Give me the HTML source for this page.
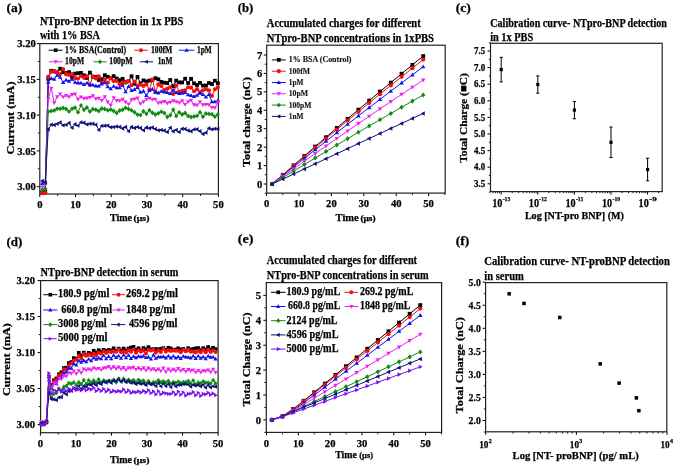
<!DOCTYPE html>
<html><head><meta charset="utf-8"><style>
html,body{margin:0;padding:0;background:#fff;width:675px;height:468px;overflow:hidden;}
svg{display:block;font-family:"Liberation Serif", serif;will-change:transform;}
</style></head><body>
<svg width="675" height="468" viewBox="0 0 675 468" font-family='"Liberation Serif", serif'>
<rect width="675" height="468" fill="#fff"/>
<text x="6.5" y="11.5" font-size="13.4" font-weight="bold" text-anchor="start" fill="#000" stroke="#000" stroke-width="0.25" textLength="15.8" lengthAdjust="spacingAndGlyphs" >(a)</text>
<text x="237.7" y="11.5" font-size="13.4" font-weight="bold" text-anchor="start" fill="#000" stroke="#000" stroke-width="0.25" textLength="15.6" lengthAdjust="spacingAndGlyphs" >(b)</text>
<text x="455.7" y="11.5" font-size="13.4" font-weight="bold" text-anchor="start" fill="#000" stroke="#000" stroke-width="0.25" textLength="15.1" lengthAdjust="spacingAndGlyphs" >(c)</text>
<text x="6.5" y="245.6" font-size="13.4" font-weight="bold" text-anchor="start" fill="#000" stroke="#000" stroke-width="0.25" textLength="15.8" lengthAdjust="spacingAndGlyphs" >(d)</text>
<text x="237.7" y="243" font-size="13.4" font-weight="bold" text-anchor="start" fill="#000" stroke="#000" stroke-width="0.25" textLength="15.8" lengthAdjust="spacingAndGlyphs" >(e)</text>
<text x="455.7" y="244.9" font-size="13.4" font-weight="bold" text-anchor="start" fill="#000" stroke="#000" stroke-width="0.25" textLength="13.5" lengthAdjust="spacingAndGlyphs" >(f)</text>
<line x1="39.8" y1="194" x2="39.8" y2="197" stroke="#000" stroke-width="1" />
<text x="39.8" y="207.8" font-size="10.6" font-weight="bold" text-anchor="middle" fill="#000" stroke="#000" stroke-width="0.25" >0</text>
<line x1="75.52" y1="194" x2="75.52" y2="197" stroke="#000" stroke-width="1" />
<text x="75.52" y="207.8" font-size="10.6" font-weight="bold" text-anchor="middle" fill="#000" stroke="#000" stroke-width="0.25" >10</text>
<line x1="111.24" y1="194" x2="111.24" y2="197" stroke="#000" stroke-width="1" />
<text x="111.24" y="207.8" font-size="10.6" font-weight="bold" text-anchor="middle" fill="#000" stroke="#000" stroke-width="0.25" >20</text>
<line x1="146.96" y1="194" x2="146.96" y2="197" stroke="#000" stroke-width="1" />
<text x="146.96" y="207.8" font-size="10.6" font-weight="bold" text-anchor="middle" fill="#000" stroke="#000" stroke-width="0.25" >30</text>
<line x1="182.68" y1="194" x2="182.68" y2="197" stroke="#000" stroke-width="1" />
<text x="182.68" y="207.8" font-size="10.6" font-weight="bold" text-anchor="middle" fill="#000" stroke="#000" stroke-width="0.25" >40</text>
<line x1="218.4" y1="194" x2="218.4" y2="197" stroke="#000" stroke-width="1" />
<text x="218.4" y="207.8" font-size="10.6" font-weight="bold" text-anchor="middle" fill="#000" stroke="#000" stroke-width="0.25" >50</text>
<line x1="57.66" y1="194" x2="57.66" y2="196" stroke="#000" stroke-width="0.9" />
<line x1="93.38" y1="194" x2="93.38" y2="196" stroke="#000" stroke-width="0.9" />
<line x1="129.1" y1="194" x2="129.1" y2="196" stroke="#000" stroke-width="0.9" />
<line x1="164.82" y1="194" x2="164.82" y2="196" stroke="#000" stroke-width="0.9" />
<line x1="200.54" y1="194" x2="200.54" y2="196" stroke="#000" stroke-width="0.9" />
<line x1="36.8" y1="186.7" x2="39.8" y2="186.7" stroke="#000" stroke-width="1" />
<text x="35.8" y="190.3" font-size="10.6" font-weight="bold" text-anchor="end" fill="#000" stroke="#000" stroke-width="0.25" >3.00</text>
<line x1="36.8" y1="150.93" x2="39.8" y2="150.93" stroke="#000" stroke-width="1" />
<text x="35.8" y="154.53" font-size="10.6" font-weight="bold" text-anchor="end" fill="#000" stroke="#000" stroke-width="0.25" >3.05</text>
<line x1="36.8" y1="115.15" x2="39.8" y2="115.15" stroke="#000" stroke-width="1" />
<text x="35.8" y="118.75" font-size="10.6" font-weight="bold" text-anchor="end" fill="#000" stroke="#000" stroke-width="0.25" >3.10</text>
<line x1="36.8" y1="79.38" x2="39.8" y2="79.38" stroke="#000" stroke-width="1" />
<text x="35.8" y="82.98" font-size="10.6" font-weight="bold" text-anchor="end" fill="#000" stroke="#000" stroke-width="0.25" >3.15</text>
<line x1="36.8" y1="43.6" x2="39.8" y2="43.6" stroke="#000" stroke-width="1" />
<text x="35.8" y="47.2" font-size="10.6" font-weight="bold" text-anchor="end" fill="#000" stroke="#000" stroke-width="0.25" >3.20</text>
<line x1="37.8" y1="168.81" x2="39.8" y2="168.81" stroke="#000" stroke-width="0.9" />
<line x1="37.8" y1="133.04" x2="39.8" y2="133.04" stroke="#000" stroke-width="0.9" />
<line x1="37.8" y1="97.26" x2="39.8" y2="97.26" stroke="#000" stroke-width="0.9" />
<line x1="37.8" y1="61.49" x2="39.8" y2="61.49" stroke="#000" stroke-width="0.9" />
<rect x="39.8" y="43.6" width="178.6" height="150.4" fill="none" stroke="#222" stroke-width="1.2"/>
<text x="39.9" y="25.4" font-size="12.4" font-weight="bold" text-anchor="start" fill="#000" stroke="#000" stroke-width="0.25" textLength="143.5" lengthAdjust="spacingAndGlyphs" >NTpro-BNP detection in 1x PBS</text>
<text x="39.9" y="39.2" font-size="12.4" font-weight="bold" text-anchor="start" fill="#000" stroke="#000" stroke-width="0.25" textLength="60" lengthAdjust="spacingAndGlyphs" >with 1% BSA</text>
<text x="13.7" y="118" font-size="11" font-weight="bold" text-anchor="middle" fill="#000" stroke="#000" stroke-width="0.25" textLength="73" lengthAdjust="spacingAndGlyphs" transform="rotate(-90 13.7 118)" >Current (mA)</text>
<text x="109.9" y="220.9" font-size="10.6" font-weight="bold" text-anchor="start" fill="#000" stroke="#000" stroke-width="0.25" textLength="22.1" lengthAdjust="spacingAndGlyphs" >Time</text>
<text x="133.5" y="220.9" font-size="8.4" font-weight="bold" text-anchor="start" fill="#000" stroke="#000" stroke-width="0.25" textLength="15.9" lengthAdjust="spacingAndGlyphs" >(µs)</text>
<path d="M42.3,192.83 L45.28,191.52 L48.25,78.88 L51.23,70.81 L54.2,71.53 L57.18,71.99 L60.15,68.74 L63.13,72.19 L66.1,72.99 L69.08,72.12 L72.06,77.04 L75.03,73.68 L78.01,73.17 L80.98,72.9 L83.96,75.3 L86.93,77.99 L89.91,72.64 L92.88,76.78 L95.86,76.95 L98.83,80.01 L101.81,79.26 L104.79,75.21 L107.76,76.82 L110.74,78.19 L113.71,76.14 L116.69,78.61 L119.66,80.19 L122.64,78.85 L125.61,82.26 L128.59,81.21 L131.56,76.24 L134.54,83.8 L137.52,76.98 L140.49,83.39 L143.47,80.41 L146.44,81.45 L149.42,80.6 L152.39,80.01 L155.37,78.16 L158.34,79.31 L161.32,81.9 L164.29,82.72 L167.27,83.06 L170.25,79.99 L173.22,86.25 L176.2,80.65 L179.17,82.4 L182.15,82.46 L185.12,78.76 L188.1,82.99 L191.07,78.87 L194.05,83.4 L197.03,84.97 L200,82.89 L202.98,85.62 L205.95,85.5 L208.93,83 L211.9,84.07 L214.88,80.74 L217.85,83.23" fill="none" stroke="#000000" stroke-width="1.0" stroke-linejoin="round"/>
<g><rect x="40.4" y="190.93" width="3.8" height="3.8" fill="#000000"/><rect x="43.38" y="189.62" width="3.8" height="3.8" fill="#000000"/><rect x="46.35" y="76.98" width="3.8" height="3.8" fill="#000000"/><rect x="49.33" y="68.91" width="3.8" height="3.8" fill="#000000"/><rect x="52.3" y="69.63" width="3.8" height="3.8" fill="#000000"/><rect x="55.28" y="70.09" width="3.8" height="3.8" fill="#000000"/><rect x="58.25" y="66.84" width="3.8" height="3.8" fill="#000000"/><rect x="61.23" y="70.29" width="3.8" height="3.8" fill="#000000"/><rect x="64.2" y="71.09" width="3.8" height="3.8" fill="#000000"/><rect x="67.18" y="70.22" width="3.8" height="3.8" fill="#000000"/><rect x="70.16" y="75.14" width="3.8" height="3.8" fill="#000000"/><rect x="73.13" y="71.78" width="3.8" height="3.8" fill="#000000"/><rect x="76.11" y="71.27" width="3.8" height="3.8" fill="#000000"/><rect x="79.08" y="71" width="3.8" height="3.8" fill="#000000"/><rect x="82.06" y="73.4" width="3.8" height="3.8" fill="#000000"/><rect x="85.03" y="76.09" width="3.8" height="3.8" fill="#000000"/><rect x="88.01" y="70.74" width="3.8" height="3.8" fill="#000000"/><rect x="90.98" y="74.88" width="3.8" height="3.8" fill="#000000"/><rect x="93.96" y="75.05" width="3.8" height="3.8" fill="#000000"/><rect x="96.93" y="78.11" width="3.8" height="3.8" fill="#000000"/><rect x="99.91" y="77.36" width="3.8" height="3.8" fill="#000000"/><rect x="102.89" y="73.31" width="3.8" height="3.8" fill="#000000"/><rect x="105.86" y="74.92" width="3.8" height="3.8" fill="#000000"/><rect x="108.84" y="76.29" width="3.8" height="3.8" fill="#000000"/><rect x="111.81" y="74.24" width="3.8" height="3.8" fill="#000000"/><rect x="114.79" y="76.71" width="3.8" height="3.8" fill="#000000"/><rect x="117.76" y="78.29" width="3.8" height="3.8" fill="#000000"/><rect x="120.74" y="76.95" width="3.8" height="3.8" fill="#000000"/><rect x="123.71" y="80.36" width="3.8" height="3.8" fill="#000000"/><rect x="126.69" y="79.31" width="3.8" height="3.8" fill="#000000"/><rect x="129.66" y="74.34" width="3.8" height="3.8" fill="#000000"/><rect x="132.64" y="81.9" width="3.8" height="3.8" fill="#000000"/><rect x="135.62" y="75.08" width="3.8" height="3.8" fill="#000000"/><rect x="138.59" y="81.49" width="3.8" height="3.8" fill="#000000"/><rect x="141.57" y="78.51" width="3.8" height="3.8" fill="#000000"/><rect x="144.54" y="79.55" width="3.8" height="3.8" fill="#000000"/><rect x="147.52" y="78.7" width="3.8" height="3.8" fill="#000000"/><rect x="150.49" y="78.11" width="3.8" height="3.8" fill="#000000"/><rect x="153.47" y="76.26" width="3.8" height="3.8" fill="#000000"/><rect x="156.44" y="77.41" width="3.8" height="3.8" fill="#000000"/><rect x="159.42" y="80" width="3.8" height="3.8" fill="#000000"/><rect x="162.39" y="80.82" width="3.8" height="3.8" fill="#000000"/><rect x="165.37" y="81.16" width="3.8" height="3.8" fill="#000000"/><rect x="168.35" y="78.09" width="3.8" height="3.8" fill="#000000"/><rect x="171.32" y="84.35" width="3.8" height="3.8" fill="#000000"/><rect x="174.3" y="78.75" width="3.8" height="3.8" fill="#000000"/><rect x="177.27" y="80.5" width="3.8" height="3.8" fill="#000000"/><rect x="180.25" y="80.56" width="3.8" height="3.8" fill="#000000"/><rect x="183.22" y="76.86" width="3.8" height="3.8" fill="#000000"/><rect x="186.2" y="81.09" width="3.8" height="3.8" fill="#000000"/><rect x="189.17" y="76.97" width="3.8" height="3.8" fill="#000000"/><rect x="192.15" y="81.5" width="3.8" height="3.8" fill="#000000"/><rect x="195.13" y="83.07" width="3.8" height="3.8" fill="#000000"/><rect x="198.1" y="80.99" width="3.8" height="3.8" fill="#000000"/><rect x="201.08" y="83.72" width="3.8" height="3.8" fill="#000000"/><rect x="204.05" y="83.6" width="3.8" height="3.8" fill="#000000"/><rect x="207.03" y="81.1" width="3.8" height="3.8" fill="#000000"/><rect x="210" y="82.17" width="3.8" height="3.8" fill="#000000"/><rect x="212.98" y="78.84" width="3.8" height="3.8" fill="#000000"/><rect x="215.95" y="81.33" width="3.8" height="3.8" fill="#000000"/></g>
<path d="M42.3,193.22 L45.28,192.95 L48.25,76.69 L51.23,71.61 L54.2,71 L57.18,71.95 L60.15,74.04 L63.13,69.05 L66.1,74.35 L69.08,74.96 L72.06,74.1 L75.03,78.13 L78.01,78.6 L80.98,76 L83.96,77.83 L86.93,75.98 L89.91,85.05 L92.88,76.35 L95.86,78.48 L98.83,76.23 L101.81,82.65 L104.79,79.35 L107.76,82.73 L110.74,78.39 L113.71,81.1 L116.69,80.92 L119.66,84.14 L122.64,82.95 L125.61,82.6 L128.59,81.16 L131.56,85.22 L134.54,81.57 L137.52,85.72 L140.49,84.64 L143.47,85.95 L146.44,84.3 L149.42,89.81 L152.39,79.66 L155.37,91.9 L158.34,84.43 L161.32,85.97 L164.29,90.02 L167.27,88.68 L170.25,87.11 L173.22,93.94 L176.2,85.49 L179.17,91.74 L182.15,90.78 L185.12,90.43 L188.1,87.22 L191.07,87.69 L194.05,91.26 L197.03,89.17 L200,92.4 L202.98,90.27 L205.95,89.08 L208.93,90.41 L211.9,95.79 L214.88,89.36 L217.85,87.44" fill="none" stroke="#f01010" stroke-width="1.0" stroke-linejoin="round"/>
<g><circle cx="42.3" cy="193.22" r="2.09" fill="#f01010"/><circle cx="45.28" cy="192.95" r="2.09" fill="#f01010"/><circle cx="48.25" cy="76.69" r="2.09" fill="#f01010"/><circle cx="51.23" cy="71.61" r="2.09" fill="#f01010"/><circle cx="54.2" cy="71" r="2.09" fill="#f01010"/><circle cx="57.18" cy="71.95" r="2.09" fill="#f01010"/><circle cx="60.15" cy="74.04" r="2.09" fill="#f01010"/><circle cx="63.13" cy="69.05" r="2.09" fill="#f01010"/><circle cx="66.1" cy="74.35" r="2.09" fill="#f01010"/><circle cx="69.08" cy="74.96" r="2.09" fill="#f01010"/><circle cx="72.06" cy="74.1" r="2.09" fill="#f01010"/><circle cx="75.03" cy="78.13" r="2.09" fill="#f01010"/><circle cx="78.01" cy="78.6" r="2.09" fill="#f01010"/><circle cx="80.98" cy="76" r="2.09" fill="#f01010"/><circle cx="83.96" cy="77.83" r="2.09" fill="#f01010"/><circle cx="86.93" cy="75.98" r="2.09" fill="#f01010"/><circle cx="89.91" cy="85.05" r="2.09" fill="#f01010"/><circle cx="92.88" cy="76.35" r="2.09" fill="#f01010"/><circle cx="95.86" cy="78.48" r="2.09" fill="#f01010"/><circle cx="98.83" cy="76.23" r="2.09" fill="#f01010"/><circle cx="101.81" cy="82.65" r="2.09" fill="#f01010"/><circle cx="104.79" cy="79.35" r="2.09" fill="#f01010"/><circle cx="107.76" cy="82.73" r="2.09" fill="#f01010"/><circle cx="110.74" cy="78.39" r="2.09" fill="#f01010"/><circle cx="113.71" cy="81.1" r="2.09" fill="#f01010"/><circle cx="116.69" cy="80.92" r="2.09" fill="#f01010"/><circle cx="119.66" cy="84.14" r="2.09" fill="#f01010"/><circle cx="122.64" cy="82.95" r="2.09" fill="#f01010"/><circle cx="125.61" cy="82.6" r="2.09" fill="#f01010"/><circle cx="128.59" cy="81.16" r="2.09" fill="#f01010"/><circle cx="131.56" cy="85.22" r="2.09" fill="#f01010"/><circle cx="134.54" cy="81.57" r="2.09" fill="#f01010"/><circle cx="137.52" cy="85.72" r="2.09" fill="#f01010"/><circle cx="140.49" cy="84.64" r="2.09" fill="#f01010"/><circle cx="143.47" cy="85.95" r="2.09" fill="#f01010"/><circle cx="146.44" cy="84.3" r="2.09" fill="#f01010"/><circle cx="149.42" cy="89.81" r="2.09" fill="#f01010"/><circle cx="152.39" cy="79.66" r="2.09" fill="#f01010"/><circle cx="155.37" cy="91.9" r="2.09" fill="#f01010"/><circle cx="158.34" cy="84.43" r="2.09" fill="#f01010"/><circle cx="161.32" cy="85.97" r="2.09" fill="#f01010"/><circle cx="164.29" cy="90.02" r="2.09" fill="#f01010"/><circle cx="167.27" cy="88.68" r="2.09" fill="#f01010"/><circle cx="170.25" cy="87.11" r="2.09" fill="#f01010"/><circle cx="173.22" cy="93.94" r="2.09" fill="#f01010"/><circle cx="176.2" cy="85.49" r="2.09" fill="#f01010"/><circle cx="179.17" cy="91.74" r="2.09" fill="#f01010"/><circle cx="182.15" cy="90.78" r="2.09" fill="#f01010"/><circle cx="185.12" cy="90.43" r="2.09" fill="#f01010"/><circle cx="188.1" cy="87.22" r="2.09" fill="#f01010"/><circle cx="191.07" cy="87.69" r="2.09" fill="#f01010"/><circle cx="194.05" cy="91.26" r="2.09" fill="#f01010"/><circle cx="197.03" cy="89.17" r="2.09" fill="#f01010"/><circle cx="200" cy="92.4" r="2.09" fill="#f01010"/><circle cx="202.98" cy="90.27" r="2.09" fill="#f01010"/><circle cx="205.95" cy="89.08" r="2.09" fill="#f01010"/><circle cx="208.93" cy="90.41" r="2.09" fill="#f01010"/><circle cx="211.9" cy="95.79" r="2.09" fill="#f01010"/><circle cx="214.88" cy="89.36" r="2.09" fill="#f01010"/><circle cx="217.85" cy="87.44" r="2.09" fill="#f01010"/></g>
<path d="M42.3,183.49 L45.28,181.9 L48.25,82.15 L51.23,78.45 L54.2,79.22 L57.18,75.34 L60.15,77.16 L63.13,82.41 L66.1,80.06 L69.08,81.19 L72.06,79.22 L75.03,82.23 L78.01,82.86 L80.98,83.01 L83.96,84.45 L86.93,82.95 L89.91,84.57 L92.88,84.93 L95.86,85.9 L98.83,85.98 L101.81,84.02 L104.79,82.5 L107.76,86.73 L110.74,88.8 L113.71,86.24 L116.69,87.75 L119.66,87.82 L122.64,85.22 L125.61,91.77 L128.59,86.51 L131.56,90.49 L134.54,89.54 L137.52,87.45 L140.49,92.3 L143.47,91.15 L146.44,95.54 L149.42,90.59 L152.39,89.11 L155.37,92.12 L158.34,92.86 L161.32,91.29 L164.29,92.08 L167.27,92.44 L170.25,93.58 L173.22,89.94 L176.2,92.59 L179.17,93.54 L182.15,93.22 L185.12,92.56 L188.1,94.7 L191.07,95.56 L194.05,96.42 L197.03,95.31 L200,93.23 L202.98,94.46 L205.95,97.08 L208.93,94.48 L211.9,101.7 L214.88,101.83 L217.85,100.64" fill="none" stroke="#1010f0" stroke-width="1.0" stroke-linejoin="round"/>
<g><polygon points="42.3,181.21 40.12,185.01 44.49,185.01" fill="#1010f0"/><polygon points="45.28,179.62 43.09,183.42 47.46,183.42" fill="#1010f0"/><polygon points="48.25,79.87 46.07,83.67 50.44,83.67" fill="#1010f0"/><polygon points="51.23,76.17 49.04,79.97 53.41,79.97" fill="#1010f0"/><polygon points="54.2,76.94 52.02,80.74 56.39,80.74" fill="#1010f0"/><polygon points="57.18,73.06 54.99,76.86 59.36,76.86" fill="#1010f0"/><polygon points="60.15,74.88 57.97,78.68 62.34,78.68" fill="#1010f0"/><polygon points="63.13,80.13 60.94,83.93 65.31,83.93" fill="#1010f0"/><polygon points="66.1,77.78 63.92,81.58 68.29,81.58" fill="#1010f0"/><polygon points="69.08,78.91 66.89,82.71 71.26,82.71" fill="#1010f0"/><polygon points="72.06,76.94 69.87,80.74 74.24,80.74" fill="#1010f0"/><polygon points="75.03,79.95 72.85,83.75 77.22,83.75" fill="#1010f0"/><polygon points="78.01,80.58 75.82,84.38 80.19,84.38" fill="#1010f0"/><polygon points="80.98,80.73 78.8,84.53 83.17,84.53" fill="#1010f0"/><polygon points="83.96,82.17 81.77,85.97 86.14,85.97" fill="#1010f0"/><polygon points="86.93,80.67 84.75,84.47 89.12,84.47" fill="#1010f0"/><polygon points="89.91,82.29 87.72,86.09 92.09,86.09" fill="#1010f0"/><polygon points="92.88,82.65 90.7,86.45 95.07,86.45" fill="#1010f0"/><polygon points="95.86,83.62 93.67,87.42 98.04,87.42" fill="#1010f0"/><polygon points="98.83,83.7 96.65,87.5 101.02,87.5" fill="#1010f0"/><polygon points="101.81,81.74 99.62,85.54 103.99,85.54" fill="#1010f0"/><polygon points="104.79,80.22 102.6,84.02 106.97,84.02" fill="#1010f0"/><polygon points="107.76,84.45 105.58,88.25 109.95,88.25" fill="#1010f0"/><polygon points="110.74,86.52 108.55,90.32 112.92,90.32" fill="#1010f0"/><polygon points="113.71,83.96 111.53,87.76 115.9,87.76" fill="#1010f0"/><polygon points="116.69,85.47 114.5,89.27 118.87,89.27" fill="#1010f0"/><polygon points="119.66,85.54 117.48,89.34 121.85,89.34" fill="#1010f0"/><polygon points="122.64,82.94 120.45,86.74 124.82,86.74" fill="#1010f0"/><polygon points="125.61,89.49 123.43,93.29 127.8,93.29" fill="#1010f0"/><polygon points="128.59,84.23 126.4,88.03 130.77,88.03" fill="#1010f0"/><polygon points="131.56,88.21 129.38,92.01 133.75,92.01" fill="#1010f0"/><polygon points="134.54,87.26 132.36,91.06 136.73,91.06" fill="#1010f0"/><polygon points="137.52,85.17 135.33,88.97 139.7,88.97" fill="#1010f0"/><polygon points="140.49,90.02 138.31,93.82 142.68,93.82" fill="#1010f0"/><polygon points="143.47,88.87 141.28,92.67 145.65,92.67" fill="#1010f0"/><polygon points="146.44,93.26 144.26,97.06 148.63,97.06" fill="#1010f0"/><polygon points="149.42,88.31 147.23,92.11 151.6,92.11" fill="#1010f0"/><polygon points="152.39,86.83 150.21,90.63 154.58,90.63" fill="#1010f0"/><polygon points="155.37,89.84 153.18,93.64 157.55,93.64" fill="#1010f0"/><polygon points="158.34,90.58 156.16,94.38 160.53,94.38" fill="#1010f0"/><polygon points="161.32,89.01 159.13,92.81 163.5,92.81" fill="#1010f0"/><polygon points="164.29,89.8 162.11,93.6 166.48,93.6" fill="#1010f0"/><polygon points="167.27,90.16 165.09,93.96 169.46,93.96" fill="#1010f0"/><polygon points="170.25,91.3 168.06,95.1 172.43,95.1" fill="#1010f0"/><polygon points="173.22,87.66 171.04,91.46 175.41,91.46" fill="#1010f0"/><polygon points="176.2,90.31 174.01,94.11 178.38,94.11" fill="#1010f0"/><polygon points="179.17,91.26 176.99,95.06 181.36,95.06" fill="#1010f0"/><polygon points="182.15,90.94 179.96,94.74 184.33,94.74" fill="#1010f0"/><polygon points="185.12,90.28 182.94,94.08 187.31,94.08" fill="#1010f0"/><polygon points="188.1,92.42 185.91,96.22 190.28,96.22" fill="#1010f0"/><polygon points="191.07,93.28 188.89,97.08 193.26,97.08" fill="#1010f0"/><polygon points="194.05,94.14 191.86,97.94 196.23,97.94" fill="#1010f0"/><polygon points="197.03,93.03 194.84,96.83 199.21,96.83" fill="#1010f0"/><polygon points="200,90.95 197.82,94.75 202.19,94.75" fill="#1010f0"/><polygon points="202.98,92.18 200.79,95.98 205.16,95.98" fill="#1010f0"/><polygon points="205.95,94.8 203.77,98.6 208.14,98.6" fill="#1010f0"/><polygon points="208.93,92.2 206.74,96 211.11,96" fill="#1010f0"/><polygon points="211.9,99.42 209.72,103.22 214.09,103.22" fill="#1010f0"/><polygon points="214.88,99.55 212.69,103.35 217.06,103.35" fill="#1010f0"/><polygon points="217.85,98.36 215.67,102.16 220.04,102.16" fill="#1010f0"/></g>
<path d="M42.3,187.12 L45.28,185.04 L48.25,98.91 L51.23,88.26 L54.2,102.88 L57.18,96.73 L60.15,94.09 L63.13,97.08 L66.1,95.58 L69.08,96.87 L72.06,94.61 L75.03,94.07 L78.01,99.17 L80.98,97.03 L83.96,98.54 L86.93,98.13 L89.91,97.5 L92.88,95.85 L95.86,98.71 L98.83,98.28 L101.81,100.45 L104.79,96.77 L107.76,101.92 L110.74,105.25 L113.71,97.72 L116.69,100.6 L119.66,100.68 L122.64,99.33 L125.61,101.97 L128.59,104.27 L131.56,99.72 L134.54,99.08 L137.52,98.06 L140.49,103.83 L143.47,101.65 L146.44,99.25 L149.42,98.27 L152.39,99.43 L155.37,99.32 L158.34,103.04 L161.32,102.39 L164.29,101.49 L167.27,103.12 L170.25,102.26 L173.22,100.72 L176.2,101.73 L179.17,102.81 L182.15,100.68 L185.12,104.51 L188.1,101.81 L191.07,100.27 L194.05,104.85 L197.03,105.12 L200,101.99 L202.98,104.86 L205.95,104.42 L208.93,104.69 L211.9,107.42 L214.88,107.8 L217.85,102.07" fill="none" stroke="#ee22ee" stroke-width="1.0" stroke-linejoin="round"/>
<g><polygon points="42.3,189.4 40.12,185.6 44.49,185.6" fill="#ee22ee"/><polygon points="45.28,187.32 43.09,183.52 47.46,183.52" fill="#ee22ee"/><polygon points="48.25,101.19 46.07,97.39 50.44,97.39" fill="#ee22ee"/><polygon points="51.23,90.54 49.04,86.74 53.41,86.74" fill="#ee22ee"/><polygon points="54.2,105.16 52.02,101.36 56.39,101.36" fill="#ee22ee"/><polygon points="57.18,99.01 54.99,95.21 59.36,95.21" fill="#ee22ee"/><polygon points="60.15,96.37 57.97,92.57 62.34,92.57" fill="#ee22ee"/><polygon points="63.13,99.36 60.94,95.56 65.31,95.56" fill="#ee22ee"/><polygon points="66.1,97.86 63.92,94.06 68.29,94.06" fill="#ee22ee"/><polygon points="69.08,99.15 66.89,95.35 71.26,95.35" fill="#ee22ee"/><polygon points="72.06,96.89 69.87,93.09 74.24,93.09" fill="#ee22ee"/><polygon points="75.03,96.35 72.85,92.55 77.22,92.55" fill="#ee22ee"/><polygon points="78.01,101.45 75.82,97.65 80.19,97.65" fill="#ee22ee"/><polygon points="80.98,99.31 78.8,95.51 83.17,95.51" fill="#ee22ee"/><polygon points="83.96,100.82 81.77,97.02 86.14,97.02" fill="#ee22ee"/><polygon points="86.93,100.41 84.75,96.61 89.12,96.61" fill="#ee22ee"/><polygon points="89.91,99.78 87.72,95.98 92.09,95.98" fill="#ee22ee"/><polygon points="92.88,98.13 90.7,94.33 95.07,94.33" fill="#ee22ee"/><polygon points="95.86,100.99 93.67,97.19 98.04,97.19" fill="#ee22ee"/><polygon points="98.83,100.56 96.65,96.76 101.02,96.76" fill="#ee22ee"/><polygon points="101.81,102.73 99.62,98.93 103.99,98.93" fill="#ee22ee"/><polygon points="104.79,99.05 102.6,95.25 106.97,95.25" fill="#ee22ee"/><polygon points="107.76,104.2 105.58,100.4 109.95,100.4" fill="#ee22ee"/><polygon points="110.74,107.53 108.55,103.73 112.92,103.73" fill="#ee22ee"/><polygon points="113.71,100 111.53,96.2 115.9,96.2" fill="#ee22ee"/><polygon points="116.69,102.88 114.5,99.08 118.87,99.08" fill="#ee22ee"/><polygon points="119.66,102.96 117.48,99.16 121.85,99.16" fill="#ee22ee"/><polygon points="122.64,101.61 120.45,97.81 124.82,97.81" fill="#ee22ee"/><polygon points="125.61,104.25 123.43,100.45 127.8,100.45" fill="#ee22ee"/><polygon points="128.59,106.55 126.4,102.75 130.77,102.75" fill="#ee22ee"/><polygon points="131.56,102 129.38,98.2 133.75,98.2" fill="#ee22ee"/><polygon points="134.54,101.36 132.36,97.56 136.73,97.56" fill="#ee22ee"/><polygon points="137.52,100.34 135.33,96.54 139.7,96.54" fill="#ee22ee"/><polygon points="140.49,106.11 138.31,102.31 142.68,102.31" fill="#ee22ee"/><polygon points="143.47,103.93 141.28,100.13 145.65,100.13" fill="#ee22ee"/><polygon points="146.44,101.53 144.26,97.73 148.63,97.73" fill="#ee22ee"/><polygon points="149.42,100.55 147.23,96.75 151.6,96.75" fill="#ee22ee"/><polygon points="152.39,101.71 150.21,97.91 154.58,97.91" fill="#ee22ee"/><polygon points="155.37,101.6 153.18,97.8 157.55,97.8" fill="#ee22ee"/><polygon points="158.34,105.32 156.16,101.52 160.53,101.52" fill="#ee22ee"/><polygon points="161.32,104.67 159.13,100.87 163.5,100.87" fill="#ee22ee"/><polygon points="164.29,103.77 162.11,99.97 166.48,99.97" fill="#ee22ee"/><polygon points="167.27,105.4 165.09,101.6 169.46,101.6" fill="#ee22ee"/><polygon points="170.25,104.54 168.06,100.74 172.43,100.74" fill="#ee22ee"/><polygon points="173.22,103 171.04,99.2 175.41,99.2" fill="#ee22ee"/><polygon points="176.2,104.01 174.01,100.21 178.38,100.21" fill="#ee22ee"/><polygon points="179.17,105.09 176.99,101.29 181.36,101.29" fill="#ee22ee"/><polygon points="182.15,102.96 179.96,99.16 184.33,99.16" fill="#ee22ee"/><polygon points="185.12,106.79 182.94,102.99 187.31,102.99" fill="#ee22ee"/><polygon points="188.1,104.09 185.91,100.29 190.28,100.29" fill="#ee22ee"/><polygon points="191.07,102.55 188.89,98.75 193.26,98.75" fill="#ee22ee"/><polygon points="194.05,107.13 191.86,103.33 196.23,103.33" fill="#ee22ee"/><polygon points="197.03,107.4 194.84,103.6 199.21,103.6" fill="#ee22ee"/><polygon points="200,104.27 197.82,100.47 202.19,100.47" fill="#ee22ee"/><polygon points="202.98,107.14 200.79,103.34 205.16,103.34" fill="#ee22ee"/><polygon points="205.95,106.7 203.77,102.9 208.14,102.9" fill="#ee22ee"/><polygon points="208.93,106.97 206.74,103.17 211.11,103.17" fill="#ee22ee"/><polygon points="211.9,109.7 209.72,105.9 214.09,105.9" fill="#ee22ee"/><polygon points="214.88,110.08 212.69,106.28 217.06,106.28" fill="#ee22ee"/><polygon points="217.85,104.35 215.67,100.55 220.04,100.55" fill="#ee22ee"/></g>
<path d="M42.3,190.02 L45.28,188.47 L48.25,111.65 L51.23,111.06 L54.2,110.49 L57.18,108.84 L60.15,108.79 L63.13,107.91 L66.1,108.98 L69.08,111.62 L72.06,108.66 L75.03,107.78 L78.01,112.18 L80.98,105.4 L83.96,109.72 L86.93,107.43 L89.91,111.47 L92.88,109.1 L95.86,109.84 L98.83,110.93 L101.81,108.59 L104.79,108.98 L107.76,110.16 L110.74,109.46 L113.71,110.97 L116.69,112.99 L119.66,110.59 L122.64,109.67 L125.61,107.86 L128.59,109.06 L131.56,110.37 L134.54,112.3 L137.52,114.65 L140.49,115.11 L143.47,111.29 L146.44,113.77 L149.42,110.2 L152.39,112.78 L155.37,114.55 L158.34,113.37 L161.32,111.65 L164.29,113.06 L167.27,116.92 L170.25,115.23 L173.22,109.83 L176.2,116.02 L179.17,112.35 L182.15,114.47 L185.12,112.92 L188.1,116.04 L191.07,117.07 L194.05,116.38 L197.03,115.87 L200,112.28 L202.98,116.66 L205.95,113.51 L208.93,113.88 L211.9,114.28 L214.88,116.65 L217.85,114.39" fill="none" stroke="#108a10" stroke-width="1.0" stroke-linejoin="round"/>
<g><polygon points="42.3,187.55 44.39,190.02 42.3,192.49 40.21,190.02" fill="#108a10"/><polygon points="45.28,186 47.37,188.47 45.28,190.94 43.19,188.47" fill="#108a10"/><polygon points="48.25,109.18 50.34,111.65 48.25,114.12 46.16,111.65" fill="#108a10"/><polygon points="51.23,108.59 53.32,111.06 51.23,113.53 49.14,111.06" fill="#108a10"/><polygon points="54.2,108.02 56.29,110.49 54.2,112.96 52.11,110.49" fill="#108a10"/><polygon points="57.18,106.37 59.27,108.84 57.18,111.31 55.09,108.84" fill="#108a10"/><polygon points="60.15,106.32 62.24,108.79 60.15,111.26 58.06,108.79" fill="#108a10"/><polygon points="63.13,105.44 65.22,107.91 63.13,110.38 61.04,107.91" fill="#108a10"/><polygon points="66.1,106.51 68.19,108.98 66.1,111.45 64.01,108.98" fill="#108a10"/><polygon points="69.08,109.15 71.17,111.62 69.08,114.09 66.99,111.62" fill="#108a10"/><polygon points="72.06,106.19 74.15,108.66 72.06,111.13 69.97,108.66" fill="#108a10"/><polygon points="75.03,105.31 77.12,107.78 75.03,110.25 72.94,107.78" fill="#108a10"/><polygon points="78.01,109.71 80.1,112.18 78.01,114.65 75.92,112.18" fill="#108a10"/><polygon points="80.98,102.93 83.07,105.4 80.98,107.87 78.89,105.4" fill="#108a10"/><polygon points="83.96,107.25 86.05,109.72 83.96,112.19 81.87,109.72" fill="#108a10"/><polygon points="86.93,104.96 89.02,107.43 86.93,109.9 84.84,107.43" fill="#108a10"/><polygon points="89.91,109 92,111.47 89.91,113.94 87.82,111.47" fill="#108a10"/><polygon points="92.88,106.63 94.97,109.1 92.88,111.57 90.79,109.1" fill="#108a10"/><polygon points="95.86,107.37 97.95,109.84 95.86,112.31 93.77,109.84" fill="#108a10"/><polygon points="98.83,108.46 100.92,110.93 98.83,113.4 96.74,110.93" fill="#108a10"/><polygon points="101.81,106.12 103.9,108.59 101.81,111.06 99.72,108.59" fill="#108a10"/><polygon points="104.79,106.51 106.88,108.98 104.79,111.45 102.7,108.98" fill="#108a10"/><polygon points="107.76,107.69 109.85,110.16 107.76,112.63 105.67,110.16" fill="#108a10"/><polygon points="110.74,106.99 112.83,109.46 110.74,111.93 108.65,109.46" fill="#108a10"/><polygon points="113.71,108.5 115.8,110.97 113.71,113.44 111.62,110.97" fill="#108a10"/><polygon points="116.69,110.52 118.78,112.99 116.69,115.46 114.6,112.99" fill="#108a10"/><polygon points="119.66,108.12 121.75,110.59 119.66,113.06 117.57,110.59" fill="#108a10"/><polygon points="122.64,107.2 124.73,109.67 122.64,112.14 120.55,109.67" fill="#108a10"/><polygon points="125.61,105.39 127.7,107.86 125.61,110.33 123.52,107.86" fill="#108a10"/><polygon points="128.59,106.59 130.68,109.06 128.59,111.53 126.5,109.06" fill="#108a10"/><polygon points="131.56,107.9 133.65,110.37 131.56,112.84 129.47,110.37" fill="#108a10"/><polygon points="134.54,109.83 136.63,112.3 134.54,114.77 132.45,112.3" fill="#108a10"/><polygon points="137.52,112.18 139.61,114.65 137.52,117.12 135.43,114.65" fill="#108a10"/><polygon points="140.49,112.64 142.58,115.11 140.49,117.58 138.4,115.11" fill="#108a10"/><polygon points="143.47,108.82 145.56,111.29 143.47,113.76 141.38,111.29" fill="#108a10"/><polygon points="146.44,111.3 148.53,113.77 146.44,116.24 144.35,113.77" fill="#108a10"/><polygon points="149.42,107.73 151.51,110.2 149.42,112.67 147.33,110.2" fill="#108a10"/><polygon points="152.39,110.31 154.48,112.78 152.39,115.25 150.3,112.78" fill="#108a10"/><polygon points="155.37,112.08 157.46,114.55 155.37,117.02 153.28,114.55" fill="#108a10"/><polygon points="158.34,110.9 160.43,113.37 158.34,115.84 156.25,113.37" fill="#108a10"/><polygon points="161.32,109.18 163.41,111.65 161.32,114.12 159.23,111.65" fill="#108a10"/><polygon points="164.29,110.59 166.38,113.06 164.29,115.53 162.2,113.06" fill="#108a10"/><polygon points="167.27,114.45 169.36,116.92 167.27,119.39 165.18,116.92" fill="#108a10"/><polygon points="170.25,112.76 172.34,115.23 170.25,117.7 168.16,115.23" fill="#108a10"/><polygon points="173.22,107.36 175.31,109.83 173.22,112.3 171.13,109.83" fill="#108a10"/><polygon points="176.2,113.55 178.29,116.02 176.2,118.49 174.11,116.02" fill="#108a10"/><polygon points="179.17,109.88 181.26,112.35 179.17,114.82 177.08,112.35" fill="#108a10"/><polygon points="182.15,112 184.24,114.47 182.15,116.94 180.06,114.47" fill="#108a10"/><polygon points="185.12,110.45 187.21,112.92 185.12,115.39 183.03,112.92" fill="#108a10"/><polygon points="188.1,113.57 190.19,116.04 188.1,118.51 186.01,116.04" fill="#108a10"/><polygon points="191.07,114.6 193.16,117.07 191.07,119.54 188.98,117.07" fill="#108a10"/><polygon points="194.05,113.91 196.14,116.38 194.05,118.85 191.96,116.38" fill="#108a10"/><polygon points="197.03,113.4 199.12,115.87 197.03,118.34 194.94,115.87" fill="#108a10"/><polygon points="200,109.81 202.09,112.28 200,114.75 197.91,112.28" fill="#108a10"/><polygon points="202.98,114.19 205.07,116.66 202.98,119.13 200.89,116.66" fill="#108a10"/><polygon points="205.95,111.04 208.04,113.51 205.95,115.98 203.86,113.51" fill="#108a10"/><polygon points="208.93,111.41 211.02,113.88 208.93,116.35 206.84,113.88" fill="#108a10"/><polygon points="211.9,111.81 213.99,114.28 211.9,116.75 209.81,114.28" fill="#108a10"/><polygon points="214.88,114.18 216.97,116.65 214.88,119.12 212.79,116.65" fill="#108a10"/><polygon points="217.85,111.92 219.94,114.39 217.85,116.86 215.76,114.39" fill="#108a10"/></g>
<path d="M42.3,181.05 L45.28,182.53 L48.25,129.27 L51.23,124.69 L54.2,125.05 L57.18,123.83 L60.15,122.55 L63.13,125.33 L66.1,124.86 L69.08,123.01 L72.06,127.82 L75.03,124.27 L78.01,125.66 L80.98,122.32 L83.96,122.72 L86.93,124.41 L89.91,123.76 L92.88,123.77 L95.86,124.65 L98.83,129.92 L101.81,125.82 L104.79,125.72 L107.76,125.61 L110.74,127.2 L113.71,127.11 L116.69,126.48 L119.66,126.9 L122.64,128.51 L125.61,126.95 L128.59,131.18 L131.56,126.98 L134.54,128.03 L137.52,127.08 L140.49,128 L143.47,130.28 L146.44,127.53 L149.42,128.27 L152.39,127.54 L155.37,129.03 L158.34,130.37 L161.32,130.01 L164.29,130.5 L167.27,132.02 L170.25,127.75 L173.22,131.42 L176.2,129.99 L179.17,132.05 L182.15,128.75 L185.12,129 L188.1,130.53 L191.07,131.3 L194.05,129.42 L197.03,129.23 L200,131.21 L202.98,134.02 L205.95,132.68 L208.93,128.22 L211.9,129.38 L214.88,128.75 L217.85,128.93" fill="none" stroke="#10107a" stroke-width="1.0" stroke-linejoin="round"/>
<g><polygon points="40.02,181.05 43.82,178.87 43.82,183.24" fill="#10107a"/><polygon points="43,182.53 46.8,180.35 46.8,184.72" fill="#10107a"/><polygon points="45.97,129.27 49.77,127.08 49.77,131.45" fill="#10107a"/><polygon points="48.95,124.69 52.75,122.5 52.75,126.87" fill="#10107a"/><polygon points="51.92,125.05 55.72,122.87 55.72,127.24" fill="#10107a"/><polygon points="54.9,123.83 58.7,121.64 58.7,126.01" fill="#10107a"/><polygon points="57.87,122.55 61.67,120.37 61.67,124.74" fill="#10107a"/><polygon points="60.85,125.33 64.65,123.15 64.65,127.52" fill="#10107a"/><polygon points="63.82,124.86 67.62,122.67 67.62,127.04" fill="#10107a"/><polygon points="66.8,123.01 70.6,120.83 70.6,125.2" fill="#10107a"/><polygon points="69.78,127.82 73.58,125.63 73.58,130" fill="#10107a"/><polygon points="72.75,124.27 76.55,122.09 76.55,126.46" fill="#10107a"/><polygon points="75.73,125.66 79.53,123.48 79.53,127.85" fill="#10107a"/><polygon points="78.7,122.32 82.5,120.14 82.5,124.51" fill="#10107a"/><polygon points="81.68,122.72 85.48,120.54 85.48,124.91" fill="#10107a"/><polygon points="84.65,124.41 88.45,122.23 88.45,126.6" fill="#10107a"/><polygon points="87.63,123.76 91.43,121.57 91.43,125.94" fill="#10107a"/><polygon points="90.6,123.77 94.4,121.59 94.4,125.96" fill="#10107a"/><polygon points="93.58,124.65 97.38,122.47 97.38,126.84" fill="#10107a"/><polygon points="96.55,129.92 100.35,127.74 100.35,132.11" fill="#10107a"/><polygon points="99.53,125.82 103.33,123.63 103.33,128" fill="#10107a"/><polygon points="102.51,125.72 106.31,123.53 106.31,127.9" fill="#10107a"/><polygon points="105.48,125.61 109.28,123.42 109.28,127.79" fill="#10107a"/><polygon points="108.46,127.2 112.26,125.01 112.26,129.38" fill="#10107a"/><polygon points="111.43,127.11 115.23,124.93 115.23,129.3" fill="#10107a"/><polygon points="114.41,126.48 118.21,124.29 118.21,128.66" fill="#10107a"/><polygon points="117.38,126.9 121.18,124.71 121.18,129.08" fill="#10107a"/><polygon points="120.36,128.51 124.16,126.33 124.16,130.7" fill="#10107a"/><polygon points="123.33,126.95 127.13,124.76 127.13,129.13" fill="#10107a"/><polygon points="126.31,131.18 130.11,128.99 130.11,133.36" fill="#10107a"/><polygon points="129.28,126.98 133.08,124.8 133.08,129.17" fill="#10107a"/><polygon points="132.26,128.03 136.06,125.84 136.06,130.21" fill="#10107a"/><polygon points="135.24,127.08 139.04,124.89 139.04,129.26" fill="#10107a"/><polygon points="138.21,128 142.01,125.82 142.01,130.19" fill="#10107a"/><polygon points="141.19,130.28 144.99,128.1 144.99,132.47" fill="#10107a"/><polygon points="144.16,127.53 147.96,125.35 147.96,129.72" fill="#10107a"/><polygon points="147.14,128.27 150.94,126.08 150.94,130.45" fill="#10107a"/><polygon points="150.11,127.54 153.91,125.35 153.91,129.72" fill="#10107a"/><polygon points="153.09,129.03 156.89,126.84 156.89,131.21" fill="#10107a"/><polygon points="156.06,130.37 159.86,128.19 159.86,132.56" fill="#10107a"/><polygon points="159.04,130.01 162.84,127.82 162.84,132.19" fill="#10107a"/><polygon points="162.01,130.5 165.81,128.32 165.81,132.69" fill="#10107a"/><polygon points="164.99,132.02 168.79,129.83 168.79,134.2" fill="#10107a"/><polygon points="167.97,127.75 171.77,125.57 171.77,129.94" fill="#10107a"/><polygon points="170.94,131.42 174.74,129.23 174.74,133.6" fill="#10107a"/><polygon points="173.92,129.99 177.72,127.81 177.72,132.18" fill="#10107a"/><polygon points="176.89,132.05 180.69,129.86 180.69,134.23" fill="#10107a"/><polygon points="179.87,128.75 183.67,126.56 183.67,130.93" fill="#10107a"/><polygon points="182.84,129 186.64,126.82 186.64,131.19" fill="#10107a"/><polygon points="185.82,130.53 189.62,128.35 189.62,132.72" fill="#10107a"/><polygon points="188.79,131.3 192.59,129.12 192.59,133.49" fill="#10107a"/><polygon points="191.77,129.42 195.57,127.24 195.57,131.61" fill="#10107a"/><polygon points="194.75,129.23 198.55,127.04 198.55,131.41" fill="#10107a"/><polygon points="197.72,131.21 201.52,129.03 201.52,133.4" fill="#10107a"/><polygon points="200.7,134.02 204.5,131.83 204.5,136.2" fill="#10107a"/><polygon points="203.67,132.68 207.47,130.5 207.47,134.87" fill="#10107a"/><polygon points="206.65,128.22 210.45,126.04 210.45,130.41" fill="#10107a"/><polygon points="209.62,129.38 213.42,127.2 213.42,131.57" fill="#10107a"/><polygon points="212.6,128.75 216.4,126.57 216.4,130.94" fill="#10107a"/><polygon points="215.57,128.93 219.37,126.74 219.37,131.11" fill="#10107a"/></g>
<line x1="48.7" y1="50.2" x2="62.7" y2="50.2" stroke="#000000" stroke-width="1.0" />
<rect x="53.9" y="48.4" width="3.6" height="3.6" fill="#000000"/>
<text x="65.1" y="52.9" font-size="9.4" font-weight="bold" text-anchor="start" fill="#000" stroke="#000" stroke-width="0.25" textLength="61" lengthAdjust="spacingAndGlyphs" >1% BSA(Control)</text>
<line x1="134.3" y1="50.2" x2="147.7" y2="50.2" stroke="#f01010" stroke-width="1.0" />
<circle cx="141" cy="50.2" r="1.98" fill="#f01010"/>
<text x="151" y="52.9" font-size="9.4" font-weight="bold" text-anchor="start" fill="#000" stroke="#000" stroke-width="0.25" textLength="21.3" lengthAdjust="spacingAndGlyphs" >100fM</text>
<line x1="179" y1="50.2" x2="194.3" y2="50.2" stroke="#1010f0" stroke-width="1.0" />
<polygon points="186.65,48.04 184.58,51.64 188.72,51.64" fill="#1010f0"/>
<text x="197" y="52.9" font-size="9.4" font-weight="bold" text-anchor="start" fill="#000" stroke="#000" stroke-width="0.25" textLength="14.7" lengthAdjust="spacingAndGlyphs" >1pM</text>
<line x1="48.7" y1="61.8" x2="62.7" y2="61.8" stroke="#ee22ee" stroke-width="1.0" />
<polygon points="55.7,63.96 53.63,60.36 57.77,60.36" fill="#ee22ee"/>
<text x="65.1" y="63.7" font-size="9.4" font-weight="bold" text-anchor="start" fill="#000" stroke="#000" stroke-width="0.25" textLength="19" lengthAdjust="spacingAndGlyphs" >10pM</text>
<line x1="93.3" y1="61.8" x2="106.7" y2="61.8" stroke="#108a10" stroke-width="1.0" />
<polygon points="100,59.46 101.98,61.8 100,64.14 98.02,61.8" fill="#108a10"/>
<text x="109.3" y="63.7" font-size="9.4" font-weight="bold" text-anchor="start" fill="#000" stroke="#000" stroke-width="0.25" textLength="23.4" lengthAdjust="spacingAndGlyphs" >100pM</text>
<line x1="139.7" y1="61.8" x2="153" y2="61.8" stroke="#10107a" stroke-width="1.0" />
<polygon points="144.19,61.8 147.79,59.73 147.79,63.87" fill="#10107a"/>
<text x="157.7" y="63.7" font-size="9.4" font-weight="bold" text-anchor="start" fill="#000" stroke="#000" stroke-width="0.25" textLength="14.6" lengthAdjust="spacingAndGlyphs" >1nM</text>
<line x1="266.6" y1="193.1" x2="266.6" y2="196.1" stroke="#000" stroke-width="1" />
<text x="266.6" y="207.4" font-size="10.6" font-weight="bold" text-anchor="middle" fill="#000" stroke="#000" stroke-width="0.25" >0</text>
<line x1="299" y1="193.1" x2="299" y2="196.1" stroke="#000" stroke-width="1" />
<text x="299" y="207.4" font-size="10.6" font-weight="bold" text-anchor="middle" fill="#000" stroke="#000" stroke-width="0.25" >10</text>
<line x1="331.4" y1="193.1" x2="331.4" y2="196.1" stroke="#000" stroke-width="1" />
<text x="331.4" y="207.4" font-size="10.6" font-weight="bold" text-anchor="middle" fill="#000" stroke="#000" stroke-width="0.25" >20</text>
<line x1="363.8" y1="193.1" x2="363.8" y2="196.1" stroke="#000" stroke-width="1" />
<text x="363.8" y="207.4" font-size="10.6" font-weight="bold" text-anchor="middle" fill="#000" stroke="#000" stroke-width="0.25" >30</text>
<line x1="396.2" y1="193.1" x2="396.2" y2="196.1" stroke="#000" stroke-width="1" />
<text x="396.2" y="207.4" font-size="10.6" font-weight="bold" text-anchor="middle" fill="#000" stroke="#000" stroke-width="0.25" >40</text>
<line x1="428.6" y1="193.1" x2="428.6" y2="196.1" stroke="#000" stroke-width="1" />
<text x="428.6" y="207.4" font-size="10.6" font-weight="bold" text-anchor="middle" fill="#000" stroke="#000" stroke-width="0.25" >50</text>
<line x1="282.8" y1="193.1" x2="282.8" y2="195.1" stroke="#000" stroke-width="0.9" />
<line x1="315.2" y1="193.1" x2="315.2" y2="195.1" stroke="#000" stroke-width="0.9" />
<line x1="347.6" y1="193.1" x2="347.6" y2="195.1" stroke="#000" stroke-width="0.9" />
<line x1="380" y1="193.1" x2="380" y2="195.1" stroke="#000" stroke-width="0.9" />
<line x1="412.4" y1="193.1" x2="412.4" y2="195.1" stroke="#000" stroke-width="0.9" />
<line x1="444.8" y1="193.1" x2="444.8" y2="195.1" stroke="#000" stroke-width="0.9" />
<line x1="263.7" y1="184" x2="266.7" y2="184" stroke="#000" stroke-width="1" />
<text x="262.2" y="187.6" font-size="10.6" font-weight="bold" text-anchor="end" fill="#000" stroke="#000" stroke-width="0.25" >0</text>
<line x1="263.7" y1="165.57" x2="266.7" y2="165.57" stroke="#000" stroke-width="1" />
<text x="262.2" y="169.17" font-size="10.6" font-weight="bold" text-anchor="end" fill="#000" stroke="#000" stroke-width="0.25" >1</text>
<line x1="263.7" y1="147.14" x2="266.7" y2="147.14" stroke="#000" stroke-width="1" />
<text x="262.2" y="150.74" font-size="10.6" font-weight="bold" text-anchor="end" fill="#000" stroke="#000" stroke-width="0.25" >2</text>
<line x1="263.7" y1="128.71" x2="266.7" y2="128.71" stroke="#000" stroke-width="1" />
<text x="262.2" y="132.31" font-size="10.6" font-weight="bold" text-anchor="end" fill="#000" stroke="#000" stroke-width="0.25" >3</text>
<line x1="263.7" y1="110.28" x2="266.7" y2="110.28" stroke="#000" stroke-width="1" />
<text x="262.2" y="113.88" font-size="10.6" font-weight="bold" text-anchor="end" fill="#000" stroke="#000" stroke-width="0.25" >4</text>
<line x1="263.7" y1="91.85" x2="266.7" y2="91.85" stroke="#000" stroke-width="1" />
<text x="262.2" y="95.45" font-size="10.6" font-weight="bold" text-anchor="end" fill="#000" stroke="#000" stroke-width="0.25" >5</text>
<line x1="263.7" y1="73.42" x2="266.7" y2="73.42" stroke="#000" stroke-width="1" />
<text x="262.2" y="77.02" font-size="10.6" font-weight="bold" text-anchor="end" fill="#000" stroke="#000" stroke-width="0.25" >6</text>
<line x1="263.7" y1="54.99" x2="266.7" y2="54.99" stroke="#000" stroke-width="1" />
<text x="262.2" y="58.59" font-size="10.6" font-weight="bold" text-anchor="end" fill="#000" stroke="#000" stroke-width="0.25" >7</text>
<line x1="264.7" y1="193.22" x2="266.7" y2="193.22" stroke="#000" stroke-width="0.9" />
<line x1="264.7" y1="174.78" x2="266.7" y2="174.78" stroke="#000" stroke-width="0.9" />
<line x1="264.7" y1="156.35" x2="266.7" y2="156.35" stroke="#000" stroke-width="0.9" />
<line x1="264.7" y1="137.93" x2="266.7" y2="137.93" stroke="#000" stroke-width="0.9" />
<line x1="264.7" y1="119.5" x2="266.7" y2="119.5" stroke="#000" stroke-width="0.9" />
<line x1="264.7" y1="101.06" x2="266.7" y2="101.06" stroke="#000" stroke-width="0.9" />
<line x1="264.7" y1="82.64" x2="266.7" y2="82.64" stroke="#000" stroke-width="0.9" />
<line x1="264.7" y1="64.2" x2="266.7" y2="64.2" stroke="#000" stroke-width="0.9" />
<rect x="266.7" y="45.2" width="178.5" height="147.9" fill="none" stroke="#222" stroke-width="1.2"/>
<text x="266.8" y="27.3" font-size="12.4" font-weight="bold" text-anchor="start" fill="#000" stroke="#000" stroke-width="0.25" textLength="153.9" lengthAdjust="spacingAndGlyphs" >Accumulated charges for different</text>
<text x="266.8" y="41.5" font-size="12.4" font-weight="bold" text-anchor="start" fill="#000" stroke="#000" stroke-width="0.25" textLength="167.2" lengthAdjust="spacingAndGlyphs" >NTpro-BNP concentrations in 1xPBS</text>
<text x="250.3" y="122" font-size="10.6" font-weight="bold" text-anchor="middle" fill="#000" stroke="#000" stroke-width="0.25" textLength="89.8" lengthAdjust="spacingAndGlyphs" transform="rotate(-90 250.3 122)" >Total charge (nC)</text>
<text x="335.6" y="220.5" font-size="10.6" font-weight="bold" text-anchor="start" fill="#000" stroke="#000" stroke-width="0.25" textLength="23.2" lengthAdjust="spacingAndGlyphs" >Time</text>
<text x="360.4" y="220.5" font-size="7.6" font-weight="bold" text-anchor="start" fill="#000" stroke="#000" stroke-width="0.25" textLength="15.2" lengthAdjust="spacingAndGlyphs" >(µs)</text>
<path d="M272.01,184 L282.81,174.87 L293.61,165.38 L304.41,155.95 L315.21,146.58 L326.01,137.27 L336.8,128.02 L347.6,118.83 L358.4,109.69 L369.2,100.62 L380,91.6 L390.8,82.64 L401.6,73.74 L412.4,64.9 L423.2,56.12" fill="none" stroke="#000000" stroke-width="1.0" stroke-linejoin="round"/>
<g><rect x="270.06" y="182.05" width="3.9" height="3.9" fill="#000000"/><rect x="280.86" y="172.92" width="3.9" height="3.9" fill="#000000"/><rect x="291.66" y="163.43" width="3.9" height="3.9" fill="#000000"/><rect x="302.46" y="154" width="3.9" height="3.9" fill="#000000"/><rect x="313.26" y="144.63" width="3.9" height="3.9" fill="#000000"/><rect x="324.06" y="135.32" width="3.9" height="3.9" fill="#000000"/><rect x="334.85" y="126.07" width="3.9" height="3.9" fill="#000000"/><rect x="345.65" y="116.88" width="3.9" height="3.9" fill="#000000"/><rect x="356.45" y="107.74" width="3.9" height="3.9" fill="#000000"/><rect x="367.25" y="98.67" width="3.9" height="3.9" fill="#000000"/><rect x="378.05" y="89.65" width="3.9" height="3.9" fill="#000000"/><rect x="388.85" y="80.69" width="3.9" height="3.9" fill="#000000"/><rect x="399.65" y="71.79" width="3.9" height="3.9" fill="#000000"/><rect x="410.45" y="62.95" width="3.9" height="3.9" fill="#000000"/><rect x="421.25" y="54.17" width="3.9" height="3.9" fill="#000000"/></g>
<path d="M272.01,184 L282.81,175.12 L293.61,165.89 L304.41,156.72 L315.21,147.61 L326.01,138.55 L336.8,129.55 L347.6,120.61 L358.4,111.73 L369.2,102.9 L380,94.13 L390.8,85.41 L401.6,76.76 L412.4,68.16 L423.2,59.62" fill="none" stroke="#f01010" stroke-width="1.0" stroke-linejoin="round"/>
<g><circle cx="272.01" cy="184" r="2.15" fill="#f01010"/><circle cx="282.81" cy="175.12" r="2.15" fill="#f01010"/><circle cx="293.61" cy="165.89" r="2.15" fill="#f01010"/><circle cx="304.41" cy="156.72" r="2.15" fill="#f01010"/><circle cx="315.21" cy="147.61" r="2.15" fill="#f01010"/><circle cx="326.01" cy="138.55" r="2.15" fill="#f01010"/><circle cx="336.8" cy="129.55" r="2.15" fill="#f01010"/><circle cx="347.6" cy="120.61" r="2.15" fill="#f01010"/><circle cx="358.4" cy="111.73" r="2.15" fill="#f01010"/><circle cx="369.2" cy="102.9" r="2.15" fill="#f01010"/><circle cx="380" cy="94.13" r="2.15" fill="#f01010"/><circle cx="390.8" cy="85.41" r="2.15" fill="#f01010"/><circle cx="401.6" cy="76.76" r="2.15" fill="#f01010"/><circle cx="412.4" cy="68.16" r="2.15" fill="#f01010"/><circle cx="423.2" cy="59.62" r="2.15" fill="#f01010"/></g>
<path d="M272.01,184 L282.81,175.63 L293.61,166.94 L304.41,158.3 L315.21,149.71 L326.01,141.18 L336.8,132.7 L347.6,124.27 L358.4,115.9 L369.2,107.58 L380,99.32 L390.8,91.11 L401.6,82.96 L412.4,74.85 L423.2,66.8" fill="none" stroke="#1010f0" stroke-width="1.0" stroke-linejoin="round"/>
<g><polygon points="272.01,181.66 269.77,185.56 274.25,185.56" fill="#1010f0"/><polygon points="282.81,173.29 280.57,177.19 285.05,177.19" fill="#1010f0"/><polygon points="293.61,164.6 291.37,168.5 295.85,168.5" fill="#1010f0"/><polygon points="304.41,155.96 302.17,159.86 306.65,159.86" fill="#1010f0"/><polygon points="315.21,147.37 312.96,151.27 317.45,151.27" fill="#1010f0"/><polygon points="326.01,138.84 323.76,142.74 328.25,142.74" fill="#1010f0"/><polygon points="336.8,130.36 334.56,134.26 339.05,134.26" fill="#1010f0"/><polygon points="347.6,121.93 345.36,125.83 349.85,125.83" fill="#1010f0"/><polygon points="358.4,113.56 356.16,117.46 360.64,117.46" fill="#1010f0"/><polygon points="369.2,105.24 366.96,109.14 371.44,109.14" fill="#1010f0"/><polygon points="380,96.98 377.76,100.88 382.24,100.88" fill="#1010f0"/><polygon points="390.8,88.77 388.56,92.67 393.04,92.67" fill="#1010f0"/><polygon points="401.6,80.62 399.36,84.52 403.84,84.52" fill="#1010f0"/><polygon points="412.4,72.51 410.15,76.41 414.64,76.41" fill="#1010f0"/><polygon points="423.2,64.46 420.95,68.36 425.44,68.36" fill="#1010f0"/></g>
<path d="M272.01,184 L282.81,176.58 L293.61,168.87 L304.41,161.21 L315.21,153.59 L326.01,146.02 L336.8,138.51 L347.6,131.03 L358.4,123.61 L369.2,116.24 L380,108.91 L390.8,101.63 L401.6,94.39 L412.4,87.21 L423.2,80.07" fill="none" stroke="#ee22ee" stroke-width="1.0" stroke-linejoin="round"/>
<g><polygon points="272.01,186.34 269.77,182.44 274.25,182.44" fill="#ee22ee"/><polygon points="282.81,178.92 280.57,175.02 285.05,175.02" fill="#ee22ee"/><polygon points="293.61,171.21 291.37,167.31 295.85,167.31" fill="#ee22ee"/><polygon points="304.41,163.55 302.17,159.65 306.65,159.65" fill="#ee22ee"/><polygon points="315.21,155.93 312.96,152.03 317.45,152.03" fill="#ee22ee"/><polygon points="326.01,148.36 323.76,144.46 328.25,144.46" fill="#ee22ee"/><polygon points="336.8,140.85 334.56,136.95 339.05,136.95" fill="#ee22ee"/><polygon points="347.6,133.37 345.36,129.47 349.85,129.47" fill="#ee22ee"/><polygon points="358.4,125.95 356.16,122.05 360.64,122.05" fill="#ee22ee"/><polygon points="369.2,118.58 366.96,114.68 371.44,114.68" fill="#ee22ee"/><polygon points="380,111.25 377.76,107.35 382.24,107.35" fill="#ee22ee"/><polygon points="390.8,103.97 388.56,100.07 393.04,100.07" fill="#ee22ee"/><polygon points="401.6,96.73 399.36,92.83 403.84,92.83" fill="#ee22ee"/><polygon points="412.4,89.55 410.15,85.65 414.64,85.65" fill="#ee22ee"/><polygon points="423.2,82.41 420.95,78.51 425.44,78.51" fill="#ee22ee"/></g>
<path d="M272.01,184 L282.81,177.64 L293.61,171.04 L304.41,164.48 L315.21,157.96 L326.01,151.48 L336.8,145.04 L347.6,138.64 L358.4,132.28 L369.2,125.97 L380,119.69 L390.8,113.46 L401.6,107.26 L412.4,101.11 L423.2,95" fill="none" stroke="#108a10" stroke-width="1.0" stroke-linejoin="round"/>
<g><polygon points="272.01,181.47 274.16,184 272.01,186.53 269.87,184" fill="#108a10"/><polygon points="282.81,175.11 284.95,177.64 282.81,180.18 280.66,177.64" fill="#108a10"/><polygon points="293.61,168.51 295.75,171.04 293.61,173.58 291.46,171.04" fill="#108a10"/><polygon points="304.41,161.94 306.55,164.48 304.41,167.01 302.26,164.48" fill="#108a10"/><polygon points="315.21,155.42 317.35,157.96 315.21,160.49 313.06,157.96" fill="#108a10"/><polygon points="326.01,148.94 328.15,151.48 326.01,154.01 323.86,151.48" fill="#108a10"/><polygon points="336.8,142.5 338.95,145.04 336.8,147.57 334.66,145.04" fill="#108a10"/><polygon points="347.6,136.11 349.75,138.64 347.6,141.18 345.46,138.64" fill="#108a10"/><polygon points="358.4,129.75 360.55,132.28 358.4,134.82 356.26,132.28" fill="#108a10"/><polygon points="369.2,123.43 371.35,125.97 369.2,128.5 367.06,125.97" fill="#108a10"/><polygon points="380,117.16 382.14,119.69 380,122.23 377.86,119.69" fill="#108a10"/><polygon points="390.8,110.92 392.94,113.46 390.8,115.99 388.65,113.46" fill="#108a10"/><polygon points="401.6,104.73 403.74,107.26 401.6,109.8 399.45,107.26" fill="#108a10"/><polygon points="412.4,98.57 414.54,101.11 412.4,103.64 410.25,101.11" fill="#108a10"/><polygon points="423.2,92.46 425.34,95 423.2,97.53 421.05,95" fill="#108a10"/></g>
<path d="M272.01,184 L282.81,179.12 L293.61,174.03 L304.41,168.94 L315.21,163.85 L326.01,158.78 L336.8,153.71 L347.6,148.65 L358.4,143.6 L369.2,138.55 L380,133.51 L390.8,128.48 L401.6,123.45 L412.4,118.44 L423.2,113.43" fill="none" stroke="#10107a" stroke-width="1.0" stroke-linejoin="round"/>
<g><polygon points="269.67,184 273.57,181.76 273.57,186.24" fill="#10107a"/><polygon points="280.47,179.12 284.37,176.88 284.37,181.37" fill="#10107a"/><polygon points="291.27,174.03 295.17,171.78 295.17,176.27" fill="#10107a"/><polygon points="302.07,168.94 305.97,166.69 305.97,171.18" fill="#10107a"/><polygon points="312.87,163.85 316.77,161.61 316.77,166.1" fill="#10107a"/><polygon points="323.67,158.78 327.57,156.54 327.57,161.02" fill="#10107a"/><polygon points="334.46,153.71 338.36,151.47 338.36,155.95" fill="#10107a"/><polygon points="345.26,148.65 349.16,146.41 349.16,150.89" fill="#10107a"/><polygon points="356.06,143.6 359.96,141.35 359.96,145.84" fill="#10107a"/><polygon points="366.86,138.55 370.76,136.31 370.76,140.79" fill="#10107a"/><polygon points="377.66,133.51 381.56,131.27 381.56,135.75" fill="#10107a"/><polygon points="388.46,128.48 392.36,126.24 392.36,130.72" fill="#10107a"/><polygon points="399.26,123.45 403.16,121.21 403.16,125.7" fill="#10107a"/><polygon points="410.06,118.44 413.96,116.19 413.96,120.68" fill="#10107a"/><polygon points="420.86,113.43 424.76,111.18 424.76,115.67" fill="#10107a"/></g>
<line x1="271.9" y1="59.9" x2="285.7" y2="59.9" stroke="#000000" stroke-width="1.0" />
<rect x="276.9" y="58" width="3.8" height="3.8" fill="#000000"/>
<text x="288.7" y="62.41" font-size="7.6" font-weight="bold" text-anchor="start" fill="#111" stroke="#111" stroke-width="0.12" textLength="62.8" lengthAdjust="spacingAndGlyphs" >1% BSA (Control)</text>
<line x1="271.9" y1="71.2" x2="285.7" y2="71.2" stroke="#f01010" stroke-width="1.0" />
<circle cx="278.8" cy="71.2" r="2.09" fill="#f01010"/>
<text x="288.7" y="73.71" font-size="7.6" font-weight="bold" text-anchor="start" fill="#111" stroke="#111" stroke-width="0.12" textLength="21.2" lengthAdjust="spacingAndGlyphs" >100fM</text>
<line x1="271.9" y1="82.5" x2="285.7" y2="82.5" stroke="#1010f0" stroke-width="1.0" />
<polygon points="278.8,80.22 276.61,84.02 280.98,84.02" fill="#1010f0"/>
<text x="288.7" y="85.01" font-size="7.6" font-weight="bold" text-anchor="start" fill="#111" stroke="#111" stroke-width="0.12" textLength="14.8" lengthAdjust="spacingAndGlyphs" >1pM</text>
<line x1="271.9" y1="93.8" x2="285.7" y2="93.8" stroke="#ee22ee" stroke-width="1.0" />
<polygon points="278.8,96.08 276.61,92.28 280.98,92.28" fill="#ee22ee"/>
<text x="288.7" y="96.31" font-size="7.6" font-weight="bold" text-anchor="start" fill="#111" stroke="#111" stroke-width="0.12" textLength="19.3" lengthAdjust="spacingAndGlyphs" >10pM</text>
<line x1="271.9" y1="105.1" x2="285.7" y2="105.1" stroke="#108a10" stroke-width="1.0" />
<polygon points="278.8,102.63 280.89,105.1 278.8,107.57 276.71,105.1" fill="#108a10"/>
<text x="288.7" y="107.61" font-size="7.6" font-weight="bold" text-anchor="start" fill="#111" stroke="#111" stroke-width="0.12" textLength="22.8" lengthAdjust="spacingAndGlyphs" >100pM</text>
<line x1="271.9" y1="116.4" x2="285.7" y2="116.4" stroke="#10107a" stroke-width="1.0" />
<polygon points="276.52,116.4 280.32,114.22 280.32,118.59" fill="#10107a"/>
<text x="288.7" y="118.91" font-size="7.6" font-weight="bold" text-anchor="start" fill="#111" stroke="#111" stroke-width="0.12" textLength="14.8" lengthAdjust="spacingAndGlyphs" >1nM</text>
<line x1="501.2" y1="191.6" x2="501.2" y2="194.6" stroke="#000" stroke-width="1" />
<line x1="537.8" y1="191.6" x2="537.8" y2="194.6" stroke="#000" stroke-width="1" />
<line x1="574.4" y1="191.6" x2="574.4" y2="194.6" stroke="#000" stroke-width="1" />
<line x1="611" y1="191.6" x2="611" y2="194.6" stroke="#000" stroke-width="1" />
<line x1="647.6" y1="191.6" x2="647.6" y2="194.6" stroke="#000" stroke-width="1" />
<line x1="493.08" y1="191.6" x2="493.08" y2="193.2" stroke="#000" stroke-width="0.9" />
<line x1="495.53" y1="191.6" x2="495.53" y2="193.2" stroke="#000" stroke-width="0.9" />
<line x1="497.65" y1="191.6" x2="497.65" y2="193.2" stroke="#000" stroke-width="0.9" />
<line x1="499.53" y1="191.6" x2="499.53" y2="193.2" stroke="#000" stroke-width="0.9" />
<line x1="512.22" y1="191.6" x2="512.22" y2="193.2" stroke="#000" stroke-width="0.9" />
<line x1="518.66" y1="191.6" x2="518.66" y2="193.2" stroke="#000" stroke-width="0.9" />
<line x1="523.24" y1="191.6" x2="523.24" y2="193.2" stroke="#000" stroke-width="0.9" />
<line x1="526.78" y1="191.6" x2="526.78" y2="193.2" stroke="#000" stroke-width="0.9" />
<line x1="529.68" y1="191.6" x2="529.68" y2="193.2" stroke="#000" stroke-width="0.9" />
<line x1="532.13" y1="191.6" x2="532.13" y2="193.2" stroke="#000" stroke-width="0.9" />
<line x1="534.25" y1="191.6" x2="534.25" y2="193.2" stroke="#000" stroke-width="0.9" />
<line x1="536.13" y1="191.6" x2="536.13" y2="193.2" stroke="#000" stroke-width="0.9" />
<line x1="548.82" y1="191.6" x2="548.82" y2="193.2" stroke="#000" stroke-width="0.9" />
<line x1="555.26" y1="191.6" x2="555.26" y2="193.2" stroke="#000" stroke-width="0.9" />
<line x1="559.84" y1="191.6" x2="559.84" y2="193.2" stroke="#000" stroke-width="0.9" />
<line x1="563.38" y1="191.6" x2="563.38" y2="193.2" stroke="#000" stroke-width="0.9" />
<line x1="566.28" y1="191.6" x2="566.28" y2="193.2" stroke="#000" stroke-width="0.9" />
<line x1="568.73" y1="191.6" x2="568.73" y2="193.2" stroke="#000" stroke-width="0.9" />
<line x1="570.85" y1="191.6" x2="570.85" y2="193.2" stroke="#000" stroke-width="0.9" />
<line x1="572.73" y1="191.6" x2="572.73" y2="193.2" stroke="#000" stroke-width="0.9" />
<line x1="585.42" y1="191.6" x2="585.42" y2="193.2" stroke="#000" stroke-width="0.9" />
<line x1="591.86" y1="191.6" x2="591.86" y2="193.2" stroke="#000" stroke-width="0.9" />
<line x1="596.44" y1="191.6" x2="596.44" y2="193.2" stroke="#000" stroke-width="0.9" />
<line x1="599.98" y1="191.6" x2="599.98" y2="193.2" stroke="#000" stroke-width="0.9" />
<line x1="602.88" y1="191.6" x2="602.88" y2="193.2" stroke="#000" stroke-width="0.9" />
<line x1="605.33" y1="191.6" x2="605.33" y2="193.2" stroke="#000" stroke-width="0.9" />
<line x1="607.45" y1="191.6" x2="607.45" y2="193.2" stroke="#000" stroke-width="0.9" />
<line x1="609.33" y1="191.6" x2="609.33" y2="193.2" stroke="#000" stroke-width="0.9" />
<line x1="622.02" y1="191.6" x2="622.02" y2="193.2" stroke="#000" stroke-width="0.9" />
<line x1="628.46" y1="191.6" x2="628.46" y2="193.2" stroke="#000" stroke-width="0.9" />
<line x1="633.04" y1="191.6" x2="633.04" y2="193.2" stroke="#000" stroke-width="0.9" />
<line x1="636.58" y1="191.6" x2="636.58" y2="193.2" stroke="#000" stroke-width="0.9" />
<line x1="639.48" y1="191.6" x2="639.48" y2="193.2" stroke="#000" stroke-width="0.9" />
<line x1="641.93" y1="191.6" x2="641.93" y2="193.2" stroke="#000" stroke-width="0.9" />
<line x1="644.05" y1="191.6" x2="644.05" y2="193.2" stroke="#000" stroke-width="0.9" />
<line x1="645.93" y1="191.6" x2="645.93" y2="193.2" stroke="#000" stroke-width="0.9" />
<line x1="658.62" y1="191.6" x2="658.62" y2="193.2" stroke="#000" stroke-width="0.9" />
<line x1="487.5" y1="183.8" x2="490.5" y2="183.8" stroke="#000" stroke-width="1" />
<text x="485.2" y="187" font-size="10.6" font-weight="bold" text-anchor="end" fill="#000" stroke="#000" stroke-width="0.25" textLength="11.2" lengthAdjust="spacingAndGlyphs" >3.5</text>
<line x1="487.5" y1="167.2" x2="490.5" y2="167.2" stroke="#000" stroke-width="1" />
<text x="485.2" y="170.4" font-size="10.6" font-weight="bold" text-anchor="end" fill="#000" stroke="#000" stroke-width="0.25" textLength="11.2" lengthAdjust="spacingAndGlyphs" >4.0</text>
<line x1="487.5" y1="150.6" x2="490.5" y2="150.6" stroke="#000" stroke-width="1" />
<text x="485.2" y="153.8" font-size="10.6" font-weight="bold" text-anchor="end" fill="#000" stroke="#000" stroke-width="0.25" textLength="11.2" lengthAdjust="spacingAndGlyphs" >4.5</text>
<line x1="487.5" y1="134" x2="490.5" y2="134" stroke="#000" stroke-width="1" />
<text x="485.2" y="137.2" font-size="10.6" font-weight="bold" text-anchor="end" fill="#000" stroke="#000" stroke-width="0.25" textLength="11.2" lengthAdjust="spacingAndGlyphs" >5.0</text>
<line x1="487.5" y1="117.4" x2="490.5" y2="117.4" stroke="#000" stroke-width="1" />
<text x="485.2" y="120.6" font-size="10.6" font-weight="bold" text-anchor="end" fill="#000" stroke="#000" stroke-width="0.25" textLength="11.2" lengthAdjust="spacingAndGlyphs" >5.5</text>
<line x1="487.5" y1="100.8" x2="490.5" y2="100.8" stroke="#000" stroke-width="1" />
<text x="485.2" y="104" font-size="10.6" font-weight="bold" text-anchor="end" fill="#000" stroke="#000" stroke-width="0.25" textLength="11.2" lengthAdjust="spacingAndGlyphs" >6.0</text>
<line x1="487.5" y1="84.2" x2="490.5" y2="84.2" stroke="#000" stroke-width="1" />
<text x="485.2" y="87.4" font-size="10.6" font-weight="bold" text-anchor="end" fill="#000" stroke="#000" stroke-width="0.25" textLength="11.2" lengthAdjust="spacingAndGlyphs" >6.5</text>
<line x1="487.5" y1="67.6" x2="490.5" y2="67.6" stroke="#000" stroke-width="1" />
<text x="485.2" y="70.8" font-size="10.6" font-weight="bold" text-anchor="end" fill="#000" stroke="#000" stroke-width="0.25" textLength="11.2" lengthAdjust="spacingAndGlyphs" >7.0</text>
<line x1="487.5" y1="51" x2="490.5" y2="51" stroke="#000" stroke-width="1" />
<text x="485.2" y="54.2" font-size="10.6" font-weight="bold" text-anchor="end" fill="#000" stroke="#000" stroke-width="0.25" textLength="11.2" lengthAdjust="spacingAndGlyphs" >7.5</text>
<line x1="488.9" y1="192.1" x2="490.5" y2="192.1" stroke="#000" stroke-width="0.9" />
<line x1="488.9" y1="175.5" x2="490.5" y2="175.5" stroke="#000" stroke-width="0.9" />
<line x1="488.9" y1="158.9" x2="490.5" y2="158.9" stroke="#000" stroke-width="0.9" />
<line x1="488.9" y1="142.3" x2="490.5" y2="142.3" stroke="#000" stroke-width="0.9" />
<line x1="488.9" y1="125.7" x2="490.5" y2="125.7" stroke="#000" stroke-width="0.9" />
<line x1="488.9" y1="109.1" x2="490.5" y2="109.1" stroke="#000" stroke-width="0.9" />
<line x1="488.9" y1="92.5" x2="490.5" y2="92.5" stroke="#000" stroke-width="0.9" />
<line x1="488.9" y1="75.9" x2="490.5" y2="75.9" stroke="#000" stroke-width="0.9" />
<line x1="488.9" y1="59.3" x2="490.5" y2="59.3" stroke="#000" stroke-width="0.9" />
<line x1="488.9" y1="42.7" x2="490.5" y2="42.7" stroke="#000" stroke-width="0.9" />
<rect x="490.5" y="43.3" width="171.7" height="148.3" fill="none" stroke="#222" stroke-width="1.2"/>
<text x="502.4" y="207.2" font-size="12" font-weight="bold" text-anchor="end" fill="#000" stroke="#000" stroke-width="0.25" textLength="10.2" lengthAdjust="spacingAndGlyphs" >10</text>
<text x="502.7" y="201.4" font-size="6.6" font-weight="bold" text-anchor="start" fill="#000" stroke="#000" stroke-width="0.25" textLength="7.6" lengthAdjust="spacingAndGlyphs" >-13</text>
<text x="539" y="207.2" font-size="12" font-weight="bold" text-anchor="end" fill="#000" stroke="#000" stroke-width="0.25" textLength="10.2" lengthAdjust="spacingAndGlyphs" >10</text>
<text x="539.3" y="201.4" font-size="6.6" font-weight="bold" text-anchor="start" fill="#000" stroke="#000" stroke-width="0.25" textLength="7.6" lengthAdjust="spacingAndGlyphs" >-12</text>
<text x="575.6" y="207.2" font-size="12" font-weight="bold" text-anchor="end" fill="#000" stroke="#000" stroke-width="0.25" textLength="10.2" lengthAdjust="spacingAndGlyphs" >10</text>
<text x="575.9" y="201.4" font-size="6.6" font-weight="bold" text-anchor="start" fill="#000" stroke="#000" stroke-width="0.25" textLength="7.6" lengthAdjust="spacingAndGlyphs" >-11</text>
<text x="612.2" y="207.2" font-size="12" font-weight="bold" text-anchor="end" fill="#000" stroke="#000" stroke-width="0.25" textLength="10.2" lengthAdjust="spacingAndGlyphs" >10</text>
<text x="612.5" y="201.4" font-size="6.6" font-weight="bold" text-anchor="start" fill="#000" stroke="#000" stroke-width="0.25" textLength="7.6" lengthAdjust="spacingAndGlyphs" >-10</text>
<text x="648.8" y="207.2" font-size="12" font-weight="bold" text-anchor="end" fill="#000" stroke="#000" stroke-width="0.25" textLength="10.2" lengthAdjust="spacingAndGlyphs" >10</text>
<text x="649.1" y="201.4" font-size="6.6" font-weight="bold" text-anchor="start" fill="#000" stroke="#000" stroke-width="0.25" textLength="7.6" lengthAdjust="spacingAndGlyphs" >-9</text>
<text x="490.2" y="27.4" font-size="12.2" font-weight="bold" text-anchor="start" fill="#000" stroke="#000" stroke-width="0.25" textLength="176.8" lengthAdjust="spacingAndGlyphs" >Calibration curve- NTpro-BNP detection</text>
<text x="490.2" y="41.2" font-size="12.2" font-weight="bold" text-anchor="start" fill="#000" stroke="#000" stroke-width="0.25" textLength="43" lengthAdjust="spacingAndGlyphs" >in 1x PBS</text>
<text x="467" y="118" font-size="10.4" font-weight="bold" text-anchor="middle" fill="#000" stroke="#000" stroke-width="0.25" textLength="89.4" lengthAdjust="spacingAndGlyphs" transform="rotate(-90 467 118)" >Total Charge (■C)</text>
<text x="524.9" y="219.2" font-size="10.4" font-weight="bold" text-anchor="start" fill="#000" stroke="#000" stroke-width="0.25" textLength="99" lengthAdjust="spacingAndGlyphs" >Log [NT-pro BNP] (M)</text>
<line x1="501.2" y1="57.31" x2="501.2" y2="81.88" stroke="#000" stroke-width="1.0" />
<line x1="499.6" y1="57.31" x2="502.8" y2="57.31" stroke="#000" stroke-width="1.0" />
<line x1="499.6" y1="81.88" x2="502.8" y2="81.88" stroke="#000" stroke-width="1.0" />
<rect x="499.6" y="67.99" width="3.2" height="3.2" fill="#000"/>
<line x1="537.8" y1="75.9" x2="537.8" y2="93.16" stroke="#000" stroke-width="1.0" />
<line x1="536.2" y1="75.9" x2="539.4" y2="75.9" stroke="#000" stroke-width="1.0" />
<line x1="536.2" y1="93.16" x2="539.4" y2="93.16" stroke="#000" stroke-width="1.0" />
<rect x="536.2" y="82.93" width="3.2" height="3.2" fill="#000"/>
<line x1="574.4" y1="101.46" x2="574.4" y2="118.73" stroke="#000" stroke-width="1.0" />
<line x1="572.8" y1="101.46" x2="576" y2="101.46" stroke="#000" stroke-width="1.0" />
<line x1="572.8" y1="118.73" x2="576" y2="118.73" stroke="#000" stroke-width="1.0" />
<rect x="572.8" y="108.5" width="3.2" height="3.2" fill="#000"/>
<line x1="611" y1="127.03" x2="611" y2="157.57" stroke="#000" stroke-width="1.0" />
<line x1="609.4" y1="127.03" x2="612.6" y2="127.03" stroke="#000" stroke-width="1.0" />
<line x1="609.4" y1="157.57" x2="612.6" y2="157.57" stroke="#000" stroke-width="1.0" />
<rect x="609.4" y="140.7" width="3.2" height="3.2" fill="#000"/>
<line x1="647.6" y1="158.24" x2="647.6" y2="180.81" stroke="#000" stroke-width="1.0" />
<line x1="646" y1="158.24" x2="649.2" y2="158.24" stroke="#000" stroke-width="1.0" />
<line x1="646" y1="180.81" x2="649.2" y2="180.81" stroke="#000" stroke-width="1.0" />
<rect x="646" y="167.92" width="3.2" height="3.2" fill="#000"/>
<line x1="40.4" y1="432.7" x2="40.4" y2="435.7" stroke="#000" stroke-width="1" />
<text x="40.4" y="447" font-size="10.6" font-weight="bold" text-anchor="middle" fill="#000" stroke="#000" stroke-width="0.25" >0</text>
<line x1="75.94" y1="432.7" x2="75.94" y2="435.7" stroke="#000" stroke-width="1" />
<text x="75.94" y="447" font-size="10.6" font-weight="bold" text-anchor="middle" fill="#000" stroke="#000" stroke-width="0.25" >10</text>
<line x1="111.48" y1="432.7" x2="111.48" y2="435.7" stroke="#000" stroke-width="1" />
<text x="111.48" y="447" font-size="10.6" font-weight="bold" text-anchor="middle" fill="#000" stroke="#000" stroke-width="0.25" >20</text>
<line x1="147.02" y1="432.7" x2="147.02" y2="435.7" stroke="#000" stroke-width="1" />
<text x="147.02" y="447" font-size="10.6" font-weight="bold" text-anchor="middle" fill="#000" stroke="#000" stroke-width="0.25" >30</text>
<line x1="182.56" y1="432.7" x2="182.56" y2="435.7" stroke="#000" stroke-width="1" />
<text x="182.56" y="447" font-size="10.6" font-weight="bold" text-anchor="middle" fill="#000" stroke="#000" stroke-width="0.25" >40</text>
<line x1="218.1" y1="432.7" x2="218.1" y2="435.7" stroke="#000" stroke-width="1" />
<text x="218.1" y="447" font-size="10.6" font-weight="bold" text-anchor="middle" fill="#000" stroke="#000" stroke-width="0.25" >50</text>
<line x1="58.17" y1="432.7" x2="58.17" y2="434.7" stroke="#000" stroke-width="0.9" />
<line x1="93.71" y1="432.7" x2="93.71" y2="434.7" stroke="#000" stroke-width="0.9" />
<line x1="129.25" y1="432.7" x2="129.25" y2="434.7" stroke="#000" stroke-width="0.9" />
<line x1="164.79" y1="432.7" x2="164.79" y2="434.7" stroke="#000" stroke-width="0.9" />
<line x1="200.33" y1="432.7" x2="200.33" y2="434.7" stroke="#000" stroke-width="0.9" />
<line x1="37.6" y1="424.6" x2="40.6" y2="424.6" stroke="#000" stroke-width="1" />
<text x="35" y="428.2" font-size="10.6" font-weight="bold" text-anchor="end" fill="#000" stroke="#000" stroke-width="0.25" >3.00</text>
<line x1="37.6" y1="388.6" x2="40.6" y2="388.6" stroke="#000" stroke-width="1" />
<text x="35" y="392.2" font-size="10.6" font-weight="bold" text-anchor="end" fill="#000" stroke="#000" stroke-width="0.25" >3.05</text>
<line x1="37.6" y1="352.6" x2="40.6" y2="352.6" stroke="#000" stroke-width="1" />
<text x="35" y="356.2" font-size="10.6" font-weight="bold" text-anchor="end" fill="#000" stroke="#000" stroke-width="0.25" >3.10</text>
<line x1="37.6" y1="316.6" x2="40.6" y2="316.6" stroke="#000" stroke-width="1" />
<text x="35" y="320.2" font-size="10.6" font-weight="bold" text-anchor="end" fill="#000" stroke="#000" stroke-width="0.25" >3.15</text>
<line x1="37.6" y1="280.6" x2="40.6" y2="280.6" stroke="#000" stroke-width="1" />
<text x="35" y="284.2" font-size="10.6" font-weight="bold" text-anchor="end" fill="#000" stroke="#000" stroke-width="0.25" >3.20</text>
<line x1="38.6" y1="406.6" x2="40.6" y2="406.6" stroke="#000" stroke-width="0.9" />
<line x1="38.6" y1="370.6" x2="40.6" y2="370.6" stroke="#000" stroke-width="0.9" />
<line x1="38.6" y1="334.6" x2="40.6" y2="334.6" stroke="#000" stroke-width="0.9" />
<line x1="38.6" y1="298.6" x2="40.6" y2="298.6" stroke="#000" stroke-width="0.9" />
<rect x="40.6" y="280.6" width="177.5" height="152.1" fill="none" stroke="#222" stroke-width="1.2"/>
<text x="40.5" y="275.5" font-size="12.4" font-weight="bold" text-anchor="start" fill="#000" stroke="#000" stroke-width="0.25" textLength="138" lengthAdjust="spacingAndGlyphs" >NTpro-BNP detection in serum</text>
<text x="10.4" y="359.6" font-size="11" font-weight="bold" text-anchor="middle" fill="#000" stroke="#000" stroke-width="0.25" textLength="73" lengthAdjust="spacingAndGlyphs" transform="rotate(-90 10.4 359.6)" >Current (mA)</text>
<text x="109.9" y="462.6" font-size="10.6" font-weight="bold" text-anchor="start" fill="#000" stroke="#000" stroke-width="0.25" textLength="22.1" lengthAdjust="spacingAndGlyphs" >Time</text>
<text x="133.5" y="462.6" font-size="8.4" font-weight="bold" text-anchor="start" fill="#000" stroke="#000" stroke-width="0.25" textLength="15.9" lengthAdjust="spacingAndGlyphs" >(µs)</text>
<path d="M41.47,423.37 L43.95,422.9 L46.44,421.33 L48.93,376.87 L51.42,385.18 L53.91,380.3 L56.39,378.47 L58.88,374.2 L61.37,372.34 L63.86,368.09 L66.34,367.75 L68.83,363.09 L71.32,362.08 L73.81,358.15 L76.3,359.07 L78.78,352.77 L81.27,355.3 L83.76,352.63 L86.25,354.99 L88.73,352.85 L91.22,354.05 L93.71,350.78 L96.2,352.73 L98.69,350.19 L101.17,351.75 L103.66,349.87 L106.15,351.16 L108.64,349.98 L111.12,350.58 L113.61,348.29 L116.1,350.81 L118.59,348.62 L121.08,350.45 L123.56,348.51 L126.05,350.47 L128.54,348.53 L131.03,347.64 L133.51,346.9 L136,349.9 L138.49,348.28 L140.98,350.41 L143.47,348.07 L145.95,349.33 L148.44,347.14 L150.93,349.39 L153.42,349.15 L155.9,349.13 L158.39,349.37 L160.88,348.8 L163.37,348.12 L165.86,349.88 L168.34,347.78 L170.83,348.49 L173.32,349.92 L175.81,349.52 L178.3,348.34 L180.78,349.71 L183.27,348.91 L185.76,350.68 L188.25,348.17 L190.73,349.59 L193.22,348.96 L195.71,348.41 L198.2,348.12 L200.69,350.19 L203.17,348.13 L205.66,349.56 L208.15,347.06 L210.64,349.44 L213.12,347.77 L215.61,349.12" fill="none" stroke="#000000" stroke-width="1.0" stroke-linejoin="round"/>
<g><rect x="39.62" y="421.52" width="3.7" height="3.7" fill="#000000"/><rect x="42.1" y="421.05" width="3.7" height="3.7" fill="#000000"/><rect x="44.59" y="419.48" width="3.7" height="3.7" fill="#000000"/><rect x="47.08" y="375.02" width="3.7" height="3.7" fill="#000000"/><rect x="49.57" y="383.33" width="3.7" height="3.7" fill="#000000"/><rect x="52.06" y="378.45" width="3.7" height="3.7" fill="#000000"/><rect x="54.54" y="376.62" width="3.7" height="3.7" fill="#000000"/><rect x="57.03" y="372.35" width="3.7" height="3.7" fill="#000000"/><rect x="59.52" y="370.49" width="3.7" height="3.7" fill="#000000"/><rect x="62.01" y="366.24" width="3.7" height="3.7" fill="#000000"/><rect x="64.49" y="365.9" width="3.7" height="3.7" fill="#000000"/><rect x="66.98" y="361.24" width="3.7" height="3.7" fill="#000000"/><rect x="69.47" y="360.23" width="3.7" height="3.7" fill="#000000"/><rect x="71.96" y="356.3" width="3.7" height="3.7" fill="#000000"/><rect x="74.45" y="357.22" width="3.7" height="3.7" fill="#000000"/><rect x="76.93" y="350.92" width="3.7" height="3.7" fill="#000000"/><rect x="79.42" y="353.45" width="3.7" height="3.7" fill="#000000"/><rect x="81.91" y="350.78" width="3.7" height="3.7" fill="#000000"/><rect x="84.4" y="353.14" width="3.7" height="3.7" fill="#000000"/><rect x="86.88" y="351" width="3.7" height="3.7" fill="#000000"/><rect x="89.37" y="352.2" width="3.7" height="3.7" fill="#000000"/><rect x="91.86" y="348.93" width="3.7" height="3.7" fill="#000000"/><rect x="94.35" y="350.88" width="3.7" height="3.7" fill="#000000"/><rect x="96.84" y="348.34" width="3.7" height="3.7" fill="#000000"/><rect x="99.32" y="349.9" width="3.7" height="3.7" fill="#000000"/><rect x="101.81" y="348.02" width="3.7" height="3.7" fill="#000000"/><rect x="104.3" y="349.31" width="3.7" height="3.7" fill="#000000"/><rect x="106.79" y="348.13" width="3.7" height="3.7" fill="#000000"/><rect x="109.27" y="348.73" width="3.7" height="3.7" fill="#000000"/><rect x="111.76" y="346.44" width="3.7" height="3.7" fill="#000000"/><rect x="114.25" y="348.96" width="3.7" height="3.7" fill="#000000"/><rect x="116.74" y="346.77" width="3.7" height="3.7" fill="#000000"/><rect x="119.23" y="348.6" width="3.7" height="3.7" fill="#000000"/><rect x="121.71" y="346.66" width="3.7" height="3.7" fill="#000000"/><rect x="124.2" y="348.62" width="3.7" height="3.7" fill="#000000"/><rect x="126.69" y="346.68" width="3.7" height="3.7" fill="#000000"/><rect x="129.18" y="345.79" width="3.7" height="3.7" fill="#000000"/><rect x="131.66" y="345.05" width="3.7" height="3.7" fill="#000000"/><rect x="134.15" y="348.05" width="3.7" height="3.7" fill="#000000"/><rect x="136.64" y="346.43" width="3.7" height="3.7" fill="#000000"/><rect x="139.13" y="348.56" width="3.7" height="3.7" fill="#000000"/><rect x="141.62" y="346.22" width="3.7" height="3.7" fill="#000000"/><rect x="144.1" y="347.48" width="3.7" height="3.7" fill="#000000"/><rect x="146.59" y="345.29" width="3.7" height="3.7" fill="#000000"/><rect x="149.08" y="347.54" width="3.7" height="3.7" fill="#000000"/><rect x="151.57" y="347.3" width="3.7" height="3.7" fill="#000000"/><rect x="154.05" y="347.28" width="3.7" height="3.7" fill="#000000"/><rect x="156.54" y="347.52" width="3.7" height="3.7" fill="#000000"/><rect x="159.03" y="346.95" width="3.7" height="3.7" fill="#000000"/><rect x="161.52" y="346.27" width="3.7" height="3.7" fill="#000000"/><rect x="164.01" y="348.03" width="3.7" height="3.7" fill="#000000"/><rect x="166.49" y="345.93" width="3.7" height="3.7" fill="#000000"/><rect x="168.98" y="346.64" width="3.7" height="3.7" fill="#000000"/><rect x="171.47" y="348.07" width="3.7" height="3.7" fill="#000000"/><rect x="173.96" y="347.67" width="3.7" height="3.7" fill="#000000"/><rect x="176.45" y="346.49" width="3.7" height="3.7" fill="#000000"/><rect x="178.93" y="347.86" width="3.7" height="3.7" fill="#000000"/><rect x="181.42" y="347.06" width="3.7" height="3.7" fill="#000000"/><rect x="183.91" y="348.83" width="3.7" height="3.7" fill="#000000"/><rect x="186.4" y="346.32" width="3.7" height="3.7" fill="#000000"/><rect x="188.88" y="347.74" width="3.7" height="3.7" fill="#000000"/><rect x="191.37" y="347.11" width="3.7" height="3.7" fill="#000000"/><rect x="193.86" y="346.56" width="3.7" height="3.7" fill="#000000"/><rect x="196.35" y="346.27" width="3.7" height="3.7" fill="#000000"/><rect x="198.84" y="348.34" width="3.7" height="3.7" fill="#000000"/><rect x="201.32" y="346.28" width="3.7" height="3.7" fill="#000000"/><rect x="203.81" y="347.71" width="3.7" height="3.7" fill="#000000"/><rect x="206.3" y="345.21" width="3.7" height="3.7" fill="#000000"/><rect x="208.79" y="347.59" width="3.7" height="3.7" fill="#000000"/><rect x="211.27" y="345.92" width="3.7" height="3.7" fill="#000000"/><rect x="213.76" y="347.27" width="3.7" height="3.7" fill="#000000"/></g>
<path d="M41.47,423.39 L43.95,424.5 L46.44,422.16 L48.93,377.02 L51.42,386.82 L53.91,381.6 L56.39,379.96 L58.88,375.33 L61.37,373.93 L63.86,369.18 L66.34,369.84 L68.83,365.6 L71.32,363.23 L73.81,360.52 L76.3,359.67 L78.78,356.14 L81.27,358.67 L83.76,354.14 L86.25,355.8 L88.73,354.61 L91.22,355.47 L93.71,353.65 L96.2,355.54 L98.69,352.81 L101.17,353.82 L103.66,351.32 L106.15,353.02 L108.64,351.42 L111.12,352.02 L113.61,351.37 L116.1,351.8 L118.59,349.58 L121.08,352.21 L123.56,351.46 L126.05,352.61 L128.54,350.14 L131.03,351.68 L133.51,349.29 L136,352.67 L138.49,350.29 L140.98,351.6 L143.47,350.4 L145.95,353.56 L148.44,349.77 L150.93,350.53 L153.42,349.65 L155.9,352.62 L158.39,350.56 L160.88,351.88 L163.37,348.68 L165.86,351.62 L168.34,350.22 L170.83,351.01 L173.32,350.35 L175.81,350.82 L178.3,350.74 L180.78,352.33 L183.27,349.83 L185.76,351.1 L188.25,349.87 L190.73,351.83 L193.22,351.48 L195.71,352.49 L198.2,350.69 L200.69,352.37 L203.17,349.92 L205.66,352.24 L208.15,349.79 L210.64,351.97 L213.12,350.51 L215.61,351.95" fill="none" stroke="#f01010" stroke-width="1.0" stroke-linejoin="round"/>
<g><circle cx="41.47" cy="423.39" r="2.04" fill="#f01010"/><circle cx="43.95" cy="424.5" r="2.04" fill="#f01010"/><circle cx="46.44" cy="422.16" r="2.04" fill="#f01010"/><circle cx="48.93" cy="377.02" r="2.04" fill="#f01010"/><circle cx="51.42" cy="386.82" r="2.04" fill="#f01010"/><circle cx="53.91" cy="381.6" r="2.04" fill="#f01010"/><circle cx="56.39" cy="379.96" r="2.04" fill="#f01010"/><circle cx="58.88" cy="375.33" r="2.04" fill="#f01010"/><circle cx="61.37" cy="373.93" r="2.04" fill="#f01010"/><circle cx="63.86" cy="369.18" r="2.04" fill="#f01010"/><circle cx="66.34" cy="369.84" r="2.04" fill="#f01010"/><circle cx="68.83" cy="365.6" r="2.04" fill="#f01010"/><circle cx="71.32" cy="363.23" r="2.04" fill="#f01010"/><circle cx="73.81" cy="360.52" r="2.04" fill="#f01010"/><circle cx="76.3" cy="359.67" r="2.04" fill="#f01010"/><circle cx="78.78" cy="356.14" r="2.04" fill="#f01010"/><circle cx="81.27" cy="358.67" r="2.04" fill="#f01010"/><circle cx="83.76" cy="354.14" r="2.04" fill="#f01010"/><circle cx="86.25" cy="355.8" r="2.04" fill="#f01010"/><circle cx="88.73" cy="354.61" r="2.04" fill="#f01010"/><circle cx="91.22" cy="355.47" r="2.04" fill="#f01010"/><circle cx="93.71" cy="353.65" r="2.04" fill="#f01010"/><circle cx="96.2" cy="355.54" r="2.04" fill="#f01010"/><circle cx="98.69" cy="352.81" r="2.04" fill="#f01010"/><circle cx="101.17" cy="353.82" r="2.04" fill="#f01010"/><circle cx="103.66" cy="351.32" r="2.04" fill="#f01010"/><circle cx="106.15" cy="353.02" r="2.04" fill="#f01010"/><circle cx="108.64" cy="351.42" r="2.04" fill="#f01010"/><circle cx="111.12" cy="352.02" r="2.04" fill="#f01010"/><circle cx="113.61" cy="351.37" r="2.04" fill="#f01010"/><circle cx="116.1" cy="351.8" r="2.04" fill="#f01010"/><circle cx="118.59" cy="349.58" r="2.04" fill="#f01010"/><circle cx="121.08" cy="352.21" r="2.04" fill="#f01010"/><circle cx="123.56" cy="351.46" r="2.04" fill="#f01010"/><circle cx="126.05" cy="352.61" r="2.04" fill="#f01010"/><circle cx="128.54" cy="350.14" r="2.04" fill="#f01010"/><circle cx="131.03" cy="351.68" r="2.04" fill="#f01010"/><circle cx="133.51" cy="349.29" r="2.04" fill="#f01010"/><circle cx="136" cy="352.67" r="2.04" fill="#f01010"/><circle cx="138.49" cy="350.29" r="2.04" fill="#f01010"/><circle cx="140.98" cy="351.6" r="2.04" fill="#f01010"/><circle cx="143.47" cy="350.4" r="2.04" fill="#f01010"/><circle cx="145.95" cy="353.56" r="2.04" fill="#f01010"/><circle cx="148.44" cy="349.77" r="2.04" fill="#f01010"/><circle cx="150.93" cy="350.53" r="2.04" fill="#f01010"/><circle cx="153.42" cy="349.65" r="2.04" fill="#f01010"/><circle cx="155.9" cy="352.62" r="2.04" fill="#f01010"/><circle cx="158.39" cy="350.56" r="2.04" fill="#f01010"/><circle cx="160.88" cy="351.88" r="2.04" fill="#f01010"/><circle cx="163.37" cy="348.68" r="2.04" fill="#f01010"/><circle cx="165.86" cy="351.62" r="2.04" fill="#f01010"/><circle cx="168.34" cy="350.22" r="2.04" fill="#f01010"/><circle cx="170.83" cy="351.01" r="2.04" fill="#f01010"/><circle cx="173.32" cy="350.35" r="2.04" fill="#f01010"/><circle cx="175.81" cy="350.82" r="2.04" fill="#f01010"/><circle cx="178.3" cy="350.74" r="2.04" fill="#f01010"/><circle cx="180.78" cy="352.33" r="2.04" fill="#f01010"/><circle cx="183.27" cy="349.83" r="2.04" fill="#f01010"/><circle cx="185.76" cy="351.1" r="2.04" fill="#f01010"/><circle cx="188.25" cy="349.87" r="2.04" fill="#f01010"/><circle cx="190.73" cy="351.83" r="2.04" fill="#f01010"/><circle cx="193.22" cy="351.48" r="2.04" fill="#f01010"/><circle cx="195.71" cy="352.49" r="2.04" fill="#f01010"/><circle cx="198.2" cy="350.69" r="2.04" fill="#f01010"/><circle cx="200.69" cy="352.37" r="2.04" fill="#f01010"/><circle cx="203.17" cy="349.92" r="2.04" fill="#f01010"/><circle cx="205.66" cy="352.24" r="2.04" fill="#f01010"/><circle cx="208.15" cy="349.79" r="2.04" fill="#f01010"/><circle cx="210.64" cy="351.97" r="2.04" fill="#f01010"/><circle cx="213.12" cy="350.51" r="2.04" fill="#f01010"/><circle cx="215.61" cy="351.95" r="2.04" fill="#f01010"/></g>
<path d="M41.47,424.56 L43.95,423.73 L46.44,422.85 L48.93,379.91 L51.42,388.55 L53.91,382.66 L56.39,383.72 L58.88,378.15 L61.37,377.42 L63.86,372.8 L66.34,372.1 L68.83,368.2 L71.32,368.15 L73.81,363.72 L76.3,364.97 L78.78,360.89 L81.27,362.29 L83.76,360.52 L86.25,361.83 L88.73,359.11 L91.22,360.84 L93.71,357.79 L96.2,359.28 L98.69,358.07 L101.17,358.72 L103.66,355.64 L106.15,358.65 L108.64,356.44 L111.12,358.75 L113.61,355.2 L116.1,357.57 L118.59,355.89 L121.08,358.38 L123.56,354.94 L126.05,357.66 L128.54,355.15 L131.03,358.5 L133.51,356.37 L136,357.72 L138.49,356.26 L140.98,356.81 L143.47,355.9 L145.95,357.63 L148.44,357.08 L150.93,359.11 L153.42,355.08 L155.9,358.32 L158.39,356.72 L160.88,356.99 L163.37,356.59 L165.86,358.09 L168.34,355.91 L170.83,358.05 L173.32,356.13 L175.81,358.05 L178.3,356.8 L180.78,358.41 L183.27,356.15 L185.76,357.04 L188.25,357.24 L190.73,358.09 L193.22,355.98 L195.71,358.42 L198.2,355.94 L200.69,358.21 L203.17,356.75 L205.66,358.72 L208.15,355.95 L210.64,357.16 L213.12,357.08 L215.61,359.06" fill="none" stroke="#1010f0" stroke-width="1.0" stroke-linejoin="round"/>
<g><polygon points="41.47,422.34 39.34,426.04 43.59,426.04" fill="#1010f0"/><polygon points="43.95,421.51 41.83,425.21 46.08,425.21" fill="#1010f0"/><polygon points="46.44,420.63 44.31,424.33 48.57,424.33" fill="#1010f0"/><polygon points="48.93,377.69 46.8,381.39 51.06,381.39" fill="#1010f0"/><polygon points="51.42,386.33 49.29,390.03 53.54,390.03" fill="#1010f0"/><polygon points="53.91,380.44 51.78,384.14 56.03,384.14" fill="#1010f0"/><polygon points="56.39,381.5 54.27,385.2 58.52,385.2" fill="#1010f0"/><polygon points="58.88,375.93 56.75,379.63 61.01,379.63" fill="#1010f0"/><polygon points="61.37,375.2 59.24,378.9 63.5,378.9" fill="#1010f0"/><polygon points="63.86,370.58 61.73,374.28 65.98,374.28" fill="#1010f0"/><polygon points="66.34,369.88 64.22,373.58 68.47,373.58" fill="#1010f0"/><polygon points="68.83,365.98 66.7,369.68 70.96,369.68" fill="#1010f0"/><polygon points="71.32,365.93 69.19,369.63 73.45,369.63" fill="#1010f0"/><polygon points="73.81,361.5 71.68,365.2 75.94,365.2" fill="#1010f0"/><polygon points="76.3,362.75 74.17,366.45 78.42,366.45" fill="#1010f0"/><polygon points="78.78,358.67 76.66,362.37 80.91,362.37" fill="#1010f0"/><polygon points="81.27,360.07 79.14,363.77 83.4,363.77" fill="#1010f0"/><polygon points="83.76,358.3 81.63,362 85.89,362" fill="#1010f0"/><polygon points="86.25,359.61 84.12,363.31 88.37,363.31" fill="#1010f0"/><polygon points="88.73,356.89 86.61,360.59 90.86,360.59" fill="#1010f0"/><polygon points="91.22,358.62 89.09,362.32 93.35,362.32" fill="#1010f0"/><polygon points="93.71,355.57 91.58,359.27 95.84,359.27" fill="#1010f0"/><polygon points="96.2,357.06 94.07,360.76 98.33,360.76" fill="#1010f0"/><polygon points="98.69,355.85 96.56,359.55 100.81,359.55" fill="#1010f0"/><polygon points="101.17,356.5 99.05,360.2 103.3,360.2" fill="#1010f0"/><polygon points="103.66,353.42 101.53,357.12 105.79,357.12" fill="#1010f0"/><polygon points="106.15,356.43 104.02,360.13 108.28,360.13" fill="#1010f0"/><polygon points="108.64,354.22 106.51,357.92 110.76,357.92" fill="#1010f0"/><polygon points="111.12,356.53 109,360.23 113.25,360.23" fill="#1010f0"/><polygon points="113.61,352.98 111.48,356.68 115.74,356.68" fill="#1010f0"/><polygon points="116.1,355.35 113.97,359.05 118.23,359.05" fill="#1010f0"/><polygon points="118.59,353.67 116.46,357.37 120.72,357.37" fill="#1010f0"/><polygon points="121.08,356.16 118.95,359.86 123.2,359.86" fill="#1010f0"/><polygon points="123.56,352.72 121.44,356.42 125.69,356.42" fill="#1010f0"/><polygon points="126.05,355.44 123.92,359.14 128.18,359.14" fill="#1010f0"/><polygon points="128.54,352.93 126.41,356.63 130.67,356.63" fill="#1010f0"/><polygon points="131.03,356.28 128.9,359.98 133.15,359.98" fill="#1010f0"/><polygon points="133.51,354.15 131.39,357.85 135.64,357.85" fill="#1010f0"/><polygon points="136,355.5 133.88,359.2 138.13,359.2" fill="#1010f0"/><polygon points="138.49,354.04 136.36,357.74 140.62,357.74" fill="#1010f0"/><polygon points="140.98,354.59 138.85,358.29 143.11,358.29" fill="#1010f0"/><polygon points="143.47,353.68 141.34,357.38 145.59,357.38" fill="#1010f0"/><polygon points="145.95,355.41 143.83,359.11 148.08,359.11" fill="#1010f0"/><polygon points="148.44,354.86 146.31,358.56 150.57,358.56" fill="#1010f0"/><polygon points="150.93,356.89 148.8,360.59 153.06,360.59" fill="#1010f0"/><polygon points="153.42,352.86 151.29,356.56 155.54,356.56" fill="#1010f0"/><polygon points="155.9,356.1 153.78,359.8 158.03,359.8" fill="#1010f0"/><polygon points="158.39,354.5 156.27,358.2 160.52,358.2" fill="#1010f0"/><polygon points="160.88,354.77 158.75,358.47 163.01,358.47" fill="#1010f0"/><polygon points="163.37,354.37 161.24,358.07 165.5,358.07" fill="#1010f0"/><polygon points="165.86,355.87 163.73,359.57 167.98,359.57" fill="#1010f0"/><polygon points="168.34,353.69 166.22,357.39 170.47,357.39" fill="#1010f0"/><polygon points="170.83,355.83 168.7,359.53 172.96,359.53" fill="#1010f0"/><polygon points="173.32,353.91 171.19,357.61 175.45,357.61" fill="#1010f0"/><polygon points="175.81,355.83 173.68,359.53 177.93,359.53" fill="#1010f0"/><polygon points="178.3,354.58 176.17,358.28 180.42,358.28" fill="#1010f0"/><polygon points="180.78,356.19 178.66,359.89 182.91,359.89" fill="#1010f0"/><polygon points="183.27,353.93 181.14,357.63 185.4,357.63" fill="#1010f0"/><polygon points="185.76,354.82 183.63,358.52 187.89,358.52" fill="#1010f0"/><polygon points="188.25,355.02 186.12,358.72 190.37,358.72" fill="#1010f0"/><polygon points="190.73,355.87 188.61,359.57 192.86,359.57" fill="#1010f0"/><polygon points="193.22,353.76 191.09,357.46 195.35,357.46" fill="#1010f0"/><polygon points="195.71,356.2 193.58,359.9 197.84,359.9" fill="#1010f0"/><polygon points="198.2,353.72 196.07,357.42 200.33,357.42" fill="#1010f0"/><polygon points="200.69,355.99 198.56,359.69 202.81,359.69" fill="#1010f0"/><polygon points="203.17,354.53 201.05,358.23 205.3,358.23" fill="#1010f0"/><polygon points="205.66,356.5 203.53,360.2 207.79,360.2" fill="#1010f0"/><polygon points="208.15,353.73 206.02,357.43 210.28,357.43" fill="#1010f0"/><polygon points="210.64,354.94 208.51,358.64 212.76,358.64" fill="#1010f0"/><polygon points="213.12,354.86 211,358.56 215.25,358.56" fill="#1010f0"/><polygon points="215.61,356.84 213.48,360.54 217.74,360.54" fill="#1010f0"/></g>
<path d="M41.47,421.47 L43.95,423.91 L46.44,422.44 L48.93,377.64 L51.42,388.29 L53.91,383.05 L56.39,383.82 L58.88,378.12 L61.37,379.07 L63.86,376.08 L66.34,376.29 L68.83,372.63 L71.32,373.57 L73.81,371.03 L76.3,373.77 L78.78,370.63 L81.27,372.8 L83.76,369.03 L86.25,370.11 L88.73,369.08 L91.22,369.96 L93.71,368.06 L96.2,369.09 L98.69,368.36 L101.17,369.9 L103.66,367.94 L106.15,367.85 L108.64,366.37 L111.12,368.69 L113.61,366.78 L116.1,368.67 L118.59,366.96 L121.08,369.04 L123.56,367.48 L126.05,369.89 L128.54,367.85 L131.03,368.17 L133.51,367.25 L136,369.37 L138.49,367.91 L140.98,369.54 L143.47,367.71 L145.95,370.17 L148.44,367.98 L150.93,369.76 L153.42,368.76 L155.9,370.6 L158.39,369.09 L160.88,370.94 L163.37,368.03 L165.86,371.95 L168.34,368.95 L170.83,370.98 L173.32,369.35 L175.81,370.69 L178.3,368.38 L180.78,370.87 L183.27,369.37 L185.76,371.49 L188.25,369.53 L190.73,370.67 L193.22,369.87 L195.71,372.17 L198.2,370.6 L200.69,372.31 L203.17,370.85 L205.66,371.05 L208.15,369.89 L210.64,372.09 L213.12,369.34 L215.61,372.53" fill="none" stroke="#ee22ee" stroke-width="1.0" stroke-linejoin="round"/>
<g><polygon points="41.47,423.69 39.34,419.99 43.59,419.99" fill="#ee22ee"/><polygon points="43.95,426.13 41.83,422.43 46.08,422.43" fill="#ee22ee"/><polygon points="46.44,424.66 44.31,420.96 48.57,420.96" fill="#ee22ee"/><polygon points="48.93,379.86 46.8,376.16 51.06,376.16" fill="#ee22ee"/><polygon points="51.42,390.51 49.29,386.81 53.54,386.81" fill="#ee22ee"/><polygon points="53.91,385.27 51.78,381.57 56.03,381.57" fill="#ee22ee"/><polygon points="56.39,386.04 54.27,382.34 58.52,382.34" fill="#ee22ee"/><polygon points="58.88,380.34 56.75,376.64 61.01,376.64" fill="#ee22ee"/><polygon points="61.37,381.29 59.24,377.59 63.5,377.59" fill="#ee22ee"/><polygon points="63.86,378.3 61.73,374.6 65.98,374.6" fill="#ee22ee"/><polygon points="66.34,378.51 64.22,374.81 68.47,374.81" fill="#ee22ee"/><polygon points="68.83,374.85 66.7,371.15 70.96,371.15" fill="#ee22ee"/><polygon points="71.32,375.79 69.19,372.09 73.45,372.09" fill="#ee22ee"/><polygon points="73.81,373.25 71.68,369.55 75.94,369.55" fill="#ee22ee"/><polygon points="76.3,375.99 74.17,372.29 78.42,372.29" fill="#ee22ee"/><polygon points="78.78,372.85 76.66,369.15 80.91,369.15" fill="#ee22ee"/><polygon points="81.27,375.02 79.14,371.32 83.4,371.32" fill="#ee22ee"/><polygon points="83.76,371.25 81.63,367.55 85.89,367.55" fill="#ee22ee"/><polygon points="86.25,372.33 84.12,368.63 88.37,368.63" fill="#ee22ee"/><polygon points="88.73,371.3 86.61,367.6 90.86,367.6" fill="#ee22ee"/><polygon points="91.22,372.18 89.09,368.48 93.35,368.48" fill="#ee22ee"/><polygon points="93.71,370.28 91.58,366.58 95.84,366.58" fill="#ee22ee"/><polygon points="96.2,371.31 94.07,367.61 98.33,367.61" fill="#ee22ee"/><polygon points="98.69,370.58 96.56,366.88 100.81,366.88" fill="#ee22ee"/><polygon points="101.17,372.12 99.05,368.42 103.3,368.42" fill="#ee22ee"/><polygon points="103.66,370.16 101.53,366.46 105.79,366.46" fill="#ee22ee"/><polygon points="106.15,370.07 104.02,366.37 108.28,366.37" fill="#ee22ee"/><polygon points="108.64,368.59 106.51,364.89 110.76,364.89" fill="#ee22ee"/><polygon points="111.12,370.91 109,367.21 113.25,367.21" fill="#ee22ee"/><polygon points="113.61,369 111.48,365.3 115.74,365.3" fill="#ee22ee"/><polygon points="116.1,370.89 113.97,367.19 118.23,367.19" fill="#ee22ee"/><polygon points="118.59,369.18 116.46,365.48 120.72,365.48" fill="#ee22ee"/><polygon points="121.08,371.26 118.95,367.56 123.2,367.56" fill="#ee22ee"/><polygon points="123.56,369.7 121.44,366 125.69,366" fill="#ee22ee"/><polygon points="126.05,372.11 123.92,368.41 128.18,368.41" fill="#ee22ee"/><polygon points="128.54,370.07 126.41,366.37 130.67,366.37" fill="#ee22ee"/><polygon points="131.03,370.39 128.9,366.69 133.15,366.69" fill="#ee22ee"/><polygon points="133.51,369.47 131.39,365.77 135.64,365.77" fill="#ee22ee"/><polygon points="136,371.59 133.88,367.89 138.13,367.89" fill="#ee22ee"/><polygon points="138.49,370.13 136.36,366.43 140.62,366.43" fill="#ee22ee"/><polygon points="140.98,371.76 138.85,368.06 143.11,368.06" fill="#ee22ee"/><polygon points="143.47,369.93 141.34,366.23 145.59,366.23" fill="#ee22ee"/><polygon points="145.95,372.39 143.83,368.69 148.08,368.69" fill="#ee22ee"/><polygon points="148.44,370.2 146.31,366.5 150.57,366.5" fill="#ee22ee"/><polygon points="150.93,371.98 148.8,368.28 153.06,368.28" fill="#ee22ee"/><polygon points="153.42,370.98 151.29,367.28 155.54,367.28" fill="#ee22ee"/><polygon points="155.9,372.82 153.78,369.12 158.03,369.12" fill="#ee22ee"/><polygon points="158.39,371.31 156.27,367.61 160.52,367.61" fill="#ee22ee"/><polygon points="160.88,373.16 158.75,369.46 163.01,369.46" fill="#ee22ee"/><polygon points="163.37,370.25 161.24,366.55 165.5,366.55" fill="#ee22ee"/><polygon points="165.86,374.17 163.73,370.47 167.98,370.47" fill="#ee22ee"/><polygon points="168.34,371.17 166.22,367.47 170.47,367.47" fill="#ee22ee"/><polygon points="170.83,373.2 168.7,369.5 172.96,369.5" fill="#ee22ee"/><polygon points="173.32,371.57 171.19,367.87 175.45,367.87" fill="#ee22ee"/><polygon points="175.81,372.91 173.68,369.21 177.93,369.21" fill="#ee22ee"/><polygon points="178.3,370.6 176.17,366.9 180.42,366.9" fill="#ee22ee"/><polygon points="180.78,373.09 178.66,369.39 182.91,369.39" fill="#ee22ee"/><polygon points="183.27,371.59 181.14,367.89 185.4,367.89" fill="#ee22ee"/><polygon points="185.76,373.71 183.63,370.01 187.89,370.01" fill="#ee22ee"/><polygon points="188.25,371.75 186.12,368.05 190.37,368.05" fill="#ee22ee"/><polygon points="190.73,372.89 188.61,369.19 192.86,369.19" fill="#ee22ee"/><polygon points="193.22,372.09 191.09,368.39 195.35,368.39" fill="#ee22ee"/><polygon points="195.71,374.39 193.58,370.69 197.84,370.69" fill="#ee22ee"/><polygon points="198.2,372.82 196.07,369.12 200.33,369.12" fill="#ee22ee"/><polygon points="200.69,374.53 198.56,370.83 202.81,370.83" fill="#ee22ee"/><polygon points="203.17,373.07 201.05,369.37 205.3,369.37" fill="#ee22ee"/><polygon points="205.66,373.27 203.53,369.57 207.79,369.57" fill="#ee22ee"/><polygon points="208.15,372.11 206.02,368.41 210.28,368.41" fill="#ee22ee"/><polygon points="210.64,374.31 208.51,370.61 212.76,370.61" fill="#ee22ee"/><polygon points="213.12,371.56 211,367.86 215.25,367.86" fill="#ee22ee"/><polygon points="215.61,374.75 213.48,371.05 217.74,371.05" fill="#ee22ee"/></g>
<path d="M41.47,424.76 L43.95,423.36 L46.44,422.62 L48.93,388.44 L51.42,397.98 L53.91,393.92 L56.39,392.77 L58.88,388.53 L61.37,390.7 L63.86,386.9 L66.34,386 L68.83,383.05 L71.32,383.79 L73.81,382.39 L76.3,385.07 L78.78,382.31 L81.27,384.1 L83.76,380.19 L86.25,384.17 L88.73,380.3 L91.22,382.66 L93.71,380.39 L96.2,382.74 L98.69,379.32 L101.17,382.73 L103.66,380.4 L106.15,381.68 L108.64,380.87 L111.12,381.46 L113.61,379.87 L116.1,382.36 L118.59,378.66 L121.08,381.39 L123.56,378.85 L126.05,381.25 L128.54,379.76 L131.03,381.3 L133.51,380.06 L136,382.27 L138.49,379.78 L140.98,381.4 L143.47,380.56 L145.95,383.36 L148.44,381.05 L150.93,383.7 L153.42,382.15 L155.9,382.28 L158.39,380.29 L160.88,382.23 L163.37,381.32 L165.86,382.66 L168.34,381.02 L170.83,383.59 L173.32,382.24 L175.81,382.96 L178.3,381.63 L180.78,383.1 L183.27,382.14 L185.76,382.15 L188.25,380.97 L190.73,383.37 L193.22,380.43 L195.71,384.59 L198.2,382.38 L200.69,383.45 L203.17,381.41 L205.66,382.67 L208.15,382.64 L210.64,383.56 L213.12,380.18 L215.61,383.35" fill="none" stroke="#108a10" stroke-width="1.0" stroke-linejoin="round"/>
<g><polygon points="41.47,422.35 43.5,424.76 41.47,427.16 39.43,424.76" fill="#108a10"/><polygon points="43.95,420.96 45.99,423.36 43.95,425.77 41.92,423.36" fill="#108a10"/><polygon points="46.44,420.21 48.48,422.62 46.44,425.02 44.41,422.62" fill="#108a10"/><polygon points="48.93,386.03 50.96,388.44 48.93,390.84 46.89,388.44" fill="#108a10"/><polygon points="51.42,395.58 53.45,397.98 51.42,400.39 49.38,397.98" fill="#108a10"/><polygon points="53.91,391.52 55.94,393.92 53.91,396.33 51.87,393.92" fill="#108a10"/><polygon points="56.39,390.36 58.43,392.77 56.39,395.17 54.36,392.77" fill="#108a10"/><polygon points="58.88,386.13 60.92,388.53 58.88,390.94 56.85,388.53" fill="#108a10"/><polygon points="61.37,388.3 63.4,390.7 61.37,393.11 59.33,390.7" fill="#108a10"/><polygon points="63.86,384.5 65.89,386.9 63.86,389.31 61.82,386.9" fill="#108a10"/><polygon points="66.34,383.6 68.38,386 66.34,388.41 64.31,386" fill="#108a10"/><polygon points="68.83,380.64 70.87,383.05 68.83,385.45 66.8,383.05" fill="#108a10"/><polygon points="71.32,381.38 73.35,383.79 71.32,386.19 69.28,383.79" fill="#108a10"/><polygon points="73.81,379.98 75.84,382.39 73.81,384.79 71.77,382.39" fill="#108a10"/><polygon points="76.3,382.66 78.33,385.07 76.3,387.47 74.26,385.07" fill="#108a10"/><polygon points="78.78,379.9 80.82,382.31 78.78,384.71 76.75,382.31" fill="#108a10"/><polygon points="81.27,381.7 83.31,384.1 81.27,386.51 79.24,384.1" fill="#108a10"/><polygon points="83.76,377.78 85.79,380.19 83.76,382.59 81.72,380.19" fill="#108a10"/><polygon points="86.25,381.77 88.28,384.17 86.25,386.58 84.21,384.17" fill="#108a10"/><polygon points="88.73,377.9 90.77,380.3 88.73,382.71 86.7,380.3" fill="#108a10"/><polygon points="91.22,380.25 93.26,382.66 91.22,385.06 89.19,382.66" fill="#108a10"/><polygon points="93.71,377.99 95.74,380.39 93.71,382.8 91.67,380.39" fill="#108a10"/><polygon points="96.2,380.34 98.23,382.74 96.2,385.15 94.16,382.74" fill="#108a10"/><polygon points="98.69,376.91 100.72,379.32 98.69,381.72 96.65,379.32" fill="#108a10"/><polygon points="101.17,380.33 103.21,382.73 101.17,385.14 99.14,382.73" fill="#108a10"/><polygon points="103.66,378 105.7,380.4 103.66,382.81 101.63,380.4" fill="#108a10"/><polygon points="106.15,379.28 108.18,381.68 106.15,384.09 104.11,381.68" fill="#108a10"/><polygon points="108.64,378.46 110.67,380.87 108.64,383.27 106.6,380.87" fill="#108a10"/><polygon points="111.12,379.06 113.16,381.46 111.12,383.87 109.09,381.46" fill="#108a10"/><polygon points="113.61,377.47 115.65,379.87 113.61,382.28 111.58,379.87" fill="#108a10"/><polygon points="116.1,379.96 118.14,382.36 116.1,384.77 114.07,382.36" fill="#108a10"/><polygon points="118.59,376.25 120.62,378.66 118.59,381.06 116.55,378.66" fill="#108a10"/><polygon points="121.08,378.98 123.11,381.39 121.08,383.79 119.04,381.39" fill="#108a10"/><polygon points="123.56,376.45 125.6,378.85 123.56,381.26 121.53,378.85" fill="#108a10"/><polygon points="126.05,378.85 128.09,381.25 126.05,383.66 124.02,381.25" fill="#108a10"/><polygon points="128.54,377.35 130.57,379.76 128.54,382.16 126.5,379.76" fill="#108a10"/><polygon points="131.03,378.89 133.06,381.3 131.03,383.7 128.99,381.3" fill="#108a10"/><polygon points="133.51,377.65 135.55,380.06 133.51,382.46 131.48,380.06" fill="#108a10"/><polygon points="136,379.86 138.04,382.27 136,384.67 133.97,382.27" fill="#108a10"/><polygon points="138.49,377.38 140.53,379.78 138.49,382.19 136.46,379.78" fill="#108a10"/><polygon points="140.98,379 143.01,381.4 140.98,383.81 138.94,381.4" fill="#108a10"/><polygon points="143.47,378.16 145.5,380.56 143.47,382.97 141.43,380.56" fill="#108a10"/><polygon points="145.95,380.96 147.99,383.36 145.95,385.77 143.92,383.36" fill="#108a10"/><polygon points="148.44,378.64 150.48,381.05 148.44,383.45 146.41,381.05" fill="#108a10"/><polygon points="150.93,381.29 152.96,383.7 150.93,386.1 148.89,383.7" fill="#108a10"/><polygon points="153.42,379.75 155.45,382.15 153.42,384.56 151.38,382.15" fill="#108a10"/><polygon points="155.9,379.88 157.94,382.28 155.9,384.69 153.87,382.28" fill="#108a10"/><polygon points="158.39,377.88 160.43,380.29 158.39,382.69 156.36,380.29" fill="#108a10"/><polygon points="160.88,379.82 162.92,382.23 160.88,384.63 158.85,382.23" fill="#108a10"/><polygon points="163.37,378.91 165.4,381.32 163.37,383.72 161.33,381.32" fill="#108a10"/><polygon points="165.86,380.25 167.89,382.66 165.86,385.06 163.82,382.66" fill="#108a10"/><polygon points="168.34,378.61 170.38,381.02 168.34,383.42 166.31,381.02" fill="#108a10"/><polygon points="170.83,381.19 172.87,383.59 170.83,386 168.8,383.59" fill="#108a10"/><polygon points="173.32,379.83 175.35,382.24 173.32,384.64 171.28,382.24" fill="#108a10"/><polygon points="175.81,380.56 177.84,382.96 175.81,385.37 173.77,382.96" fill="#108a10"/><polygon points="178.3,379.23 180.33,381.63 178.3,384.04 176.26,381.63" fill="#108a10"/><polygon points="180.78,380.7 182.82,383.1 180.78,385.51 178.75,383.1" fill="#108a10"/><polygon points="183.27,379.73 185.31,382.14 183.27,384.54 181.24,382.14" fill="#108a10"/><polygon points="185.76,379.75 187.79,382.15 185.76,384.56 183.72,382.15" fill="#108a10"/><polygon points="188.25,378.56 190.28,380.97 188.25,383.37 186.21,380.97" fill="#108a10"/><polygon points="190.73,380.96 192.77,383.37 190.73,385.77 188.7,383.37" fill="#108a10"/><polygon points="193.22,378.02 195.26,380.43 193.22,382.83 191.19,380.43" fill="#108a10"/><polygon points="195.71,382.19 197.74,384.59 195.71,387 193.67,384.59" fill="#108a10"/><polygon points="198.2,379.97 200.23,382.38 198.2,384.78 196.16,382.38" fill="#108a10"/><polygon points="200.69,381.05 202.72,383.45 200.69,385.86 198.65,383.45" fill="#108a10"/><polygon points="203.17,379 205.21,381.41 203.17,383.81 201.14,381.41" fill="#108a10"/><polygon points="205.66,380.26 207.7,382.67 205.66,385.07 203.63,382.67" fill="#108a10"/><polygon points="208.15,380.24 210.18,382.64 208.15,385.05 206.11,382.64" fill="#108a10"/><polygon points="210.64,381.15 212.67,383.56 210.64,385.96 208.6,383.56" fill="#108a10"/><polygon points="213.12,377.78 215.16,380.18 213.12,382.59 211.09,380.18" fill="#108a10"/><polygon points="215.61,380.95 217.65,383.35 215.61,385.76 213.58,383.35" fill="#108a10"/></g>
<path d="M41.47,423.09 L43.95,423.59 L46.44,421.86 L48.93,392.75 L51.42,399.11 L53.91,399.49 L56.39,400.01 L58.88,397.33 L61.37,397.13 L63.86,392.39 L66.34,394.49 L68.83,391.11 L71.32,390.92 L73.81,388.33 L76.3,388.95 L78.78,386.05 L81.27,388.98 L83.76,386.08 L86.25,386.71 L88.73,384.29 L91.22,385.05 L93.71,383.4 L96.2,385.13 L98.69,382.77 L101.17,384.21 L103.66,381.73 L106.15,382.73 L108.64,381.2 L111.12,382.78 L113.61,380.63 L116.1,380.95 L118.59,379.39 L121.08,381.58 L123.56,380.22 L126.05,382.24 L128.54,381.34 L131.03,382.91 L133.51,382.58 L136,384.04 L138.49,382.93 L140.98,383.99 L143.47,383.39 L145.95,385.09 L148.44,383.2 L150.93,384.38 L153.42,384.12 L155.9,386.02 L158.39,383.23 L160.88,386.28 L163.37,383.62 L165.86,386.09 L168.34,384.13 L170.83,387.05 L173.32,383.75 L175.81,386.34 L178.3,384.95 L180.78,384.82 L183.27,384.06 L185.76,384.05 L188.25,384.4 L190.73,386.7 L193.22,384.75 L195.71,385.58 L198.2,384.99 L200.69,386.48 L203.17,384.79 L205.66,387.52 L208.15,385.19 L210.64,387.4 L213.12,386.23 L215.61,386.66" fill="none" stroke="#10107a" stroke-width="1.0" stroke-linejoin="round"/>
<g><polygon points="39.25,423.09 42.95,420.96 42.95,425.22" fill="#10107a"/><polygon points="41.73,423.59 45.43,421.46 45.43,425.72" fill="#10107a"/><polygon points="44.22,421.86 47.92,419.73 47.92,423.99" fill="#10107a"/><polygon points="46.71,392.75 50.41,390.62 50.41,394.88" fill="#10107a"/><polygon points="49.2,399.11 52.9,396.99 52.9,401.24" fill="#10107a"/><polygon points="51.69,399.49 55.39,397.36 55.39,401.61" fill="#10107a"/><polygon points="54.17,400.01 57.87,397.88 57.87,402.13" fill="#10107a"/><polygon points="56.66,397.33 60.36,395.21 60.36,399.46" fill="#10107a"/><polygon points="59.15,397.13 62.85,395.01 62.85,399.26" fill="#10107a"/><polygon points="61.64,392.39 65.34,390.26 65.34,394.52" fill="#10107a"/><polygon points="64.12,394.49 67.82,392.36 67.82,396.61" fill="#10107a"/><polygon points="66.61,391.11 70.31,388.98 70.31,393.24" fill="#10107a"/><polygon points="69.1,390.92 72.8,388.79 72.8,393.05" fill="#10107a"/><polygon points="71.59,388.33 75.29,386.21 75.29,390.46" fill="#10107a"/><polygon points="74.08,388.95 77.78,386.82 77.78,391.07" fill="#10107a"/><polygon points="76.56,386.05 80.26,383.92 80.26,388.18" fill="#10107a"/><polygon points="79.05,388.98 82.75,386.85 82.75,391.1" fill="#10107a"/><polygon points="81.54,386.08 85.24,383.95 85.24,388.21" fill="#10107a"/><polygon points="84.03,386.71 87.73,384.58 87.73,388.84" fill="#10107a"/><polygon points="86.51,384.29 90.21,382.16 90.21,386.42" fill="#10107a"/><polygon points="89,385.05 92.7,382.92 92.7,387.17" fill="#10107a"/><polygon points="91.49,383.4 95.19,381.27 95.19,385.53" fill="#10107a"/><polygon points="93.98,385.13 97.68,383.01 97.68,387.26" fill="#10107a"/><polygon points="96.47,382.77 100.17,380.64 100.17,384.9" fill="#10107a"/><polygon points="98.95,384.21 102.65,382.08 102.65,386.34" fill="#10107a"/><polygon points="101.44,381.73 105.14,379.6 105.14,383.86" fill="#10107a"/><polygon points="103.93,382.73 107.63,380.6 107.63,384.85" fill="#10107a"/><polygon points="106.42,381.2 110.12,379.08 110.12,383.33" fill="#10107a"/><polygon points="108.9,382.78 112.6,380.66 112.6,384.91" fill="#10107a"/><polygon points="111.39,380.63 115.09,378.5 115.09,382.76" fill="#10107a"/><polygon points="113.88,380.95 117.58,378.83 117.58,383.08" fill="#10107a"/><polygon points="116.37,379.39 120.07,377.26 120.07,381.51" fill="#10107a"/><polygon points="118.86,381.58 122.56,379.45 122.56,383.71" fill="#10107a"/><polygon points="121.34,380.22 125.04,378.09 125.04,382.35" fill="#10107a"/><polygon points="123.83,382.24 127.53,380.12 127.53,384.37" fill="#10107a"/><polygon points="126.32,381.34 130.02,379.21 130.02,383.46" fill="#10107a"/><polygon points="128.81,382.91 132.51,380.79 132.51,385.04" fill="#10107a"/><polygon points="131.29,382.58 134.99,380.45 134.99,384.71" fill="#10107a"/><polygon points="133.78,384.04 137.48,381.91 137.48,386.16" fill="#10107a"/><polygon points="136.27,382.93 139.97,380.8 139.97,385.06" fill="#10107a"/><polygon points="138.76,383.99 142.46,381.87 142.46,386.12" fill="#10107a"/><polygon points="141.25,383.39 144.95,381.26 144.95,385.52" fill="#10107a"/><polygon points="143.73,385.09 147.43,382.97 147.43,387.22" fill="#10107a"/><polygon points="146.22,383.2 149.92,381.07 149.92,385.33" fill="#10107a"/><polygon points="148.71,384.38 152.41,382.26 152.41,386.51" fill="#10107a"/><polygon points="151.2,384.12 154.9,382 154.9,386.25" fill="#10107a"/><polygon points="153.68,386.02 157.38,383.89 157.38,388.15" fill="#10107a"/><polygon points="156.17,383.23 159.87,381.1 159.87,385.36" fill="#10107a"/><polygon points="158.66,386.28 162.36,384.15 162.36,388.41" fill="#10107a"/><polygon points="161.15,383.62 164.85,381.49 164.85,385.75" fill="#10107a"/><polygon points="163.64,386.09 167.34,383.96 167.34,388.21" fill="#10107a"/><polygon points="166.12,384.13 169.82,382 169.82,386.26" fill="#10107a"/><polygon points="168.61,387.05 172.31,384.92 172.31,389.18" fill="#10107a"/><polygon points="171.1,383.75 174.8,381.63 174.8,385.88" fill="#10107a"/><polygon points="173.59,386.34 177.29,384.22 177.29,388.47" fill="#10107a"/><polygon points="176.08,384.95 179.78,382.82 179.78,387.08" fill="#10107a"/><polygon points="178.56,384.82 182.26,382.7 182.26,386.95" fill="#10107a"/><polygon points="181.05,384.06 184.75,381.93 184.75,386.18" fill="#10107a"/><polygon points="183.54,384.05 187.24,381.92 187.24,386.17" fill="#10107a"/><polygon points="186.03,384.4 189.73,382.28 189.73,386.53" fill="#10107a"/><polygon points="188.51,386.7 192.21,384.57 192.21,388.83" fill="#10107a"/><polygon points="191,384.75 194.7,382.62 194.7,386.88" fill="#10107a"/><polygon points="193.49,385.58 197.19,383.45 197.19,387.71" fill="#10107a"/><polygon points="195.98,384.99 199.68,382.86 199.68,387.12" fill="#10107a"/><polygon points="198.47,386.48 202.17,384.36 202.17,388.61" fill="#10107a"/><polygon points="200.95,384.79 204.65,382.66 204.65,386.92" fill="#10107a"/><polygon points="203.44,387.52 207.14,385.39 207.14,389.64" fill="#10107a"/><polygon points="205.93,385.19 209.63,383.06 209.63,387.32" fill="#10107a"/><polygon points="208.42,387.4 212.12,385.28 212.12,389.53" fill="#10107a"/><polygon points="210.9,386.23 214.6,384.1 214.6,388.36" fill="#10107a"/><polygon points="213.39,386.66 217.09,384.54 217.09,388.79" fill="#10107a"/></g>
<path d="M41.47,425.24 L43.95,424.45 L46.44,422.37 L48.93,373.23 L51.42,393.88 L53.91,390.1 L56.39,391.31 L58.88,389.47 L61.37,391.62 L63.86,389.18 L66.34,391.01 L68.83,388.51 L71.32,390.27 L73.81,387.76 L76.3,390.01 L78.78,389.41 L81.27,390.48 L83.76,388.52 L86.25,390.27 L88.73,388.62 L91.22,389.61 L93.71,387.7 L96.2,391.1 L98.69,389.19 L101.17,391.08 L103.66,388.89 L106.15,391.62 L108.64,389.73 L111.12,392.18 L113.61,390.75 L116.1,391.65 L118.59,390.98 L121.08,391.64 L123.56,389.38 L126.05,392.13 L128.54,390.36 L131.03,392.76 L133.51,391.81 L136,392.31 L138.49,391.34 L140.98,392.58 L143.47,390.8 L145.95,392.35 L148.44,390.03 L150.93,393.09 L153.42,391.27 L155.9,394.38 L158.39,391.21 L160.88,394.33 L163.37,392.72 L165.86,393.32 L168.34,394 L170.83,394 L173.32,392.12 L175.81,394.55 L178.3,391.51 L180.78,394.78 L183.27,392.35 L185.76,395.52 L188.25,393.83 L190.73,393.71 L193.22,392.1 L195.71,395.3 L198.2,392.84 L200.69,395.85 L203.17,393.95 L205.66,394.31 L208.15,392.69 L210.64,394.77 L213.12,393.45 L215.61,395.14" fill="none" stroke="#7a10f0" stroke-width="1.0" stroke-linejoin="round"/>
<g><polygon points="43.69,425.24 39.99,423.12 39.99,427.37" fill="#7a10f0"/><polygon points="46.17,424.45 42.47,422.32 42.47,426.58" fill="#7a10f0"/><polygon points="48.66,422.37 44.96,420.24 44.96,424.5" fill="#7a10f0"/><polygon points="51.15,373.23 47.45,371.1 47.45,375.35" fill="#7a10f0"/><polygon points="53.64,393.88 49.94,391.75 49.94,396.01" fill="#7a10f0"/><polygon points="56.13,390.1 52.43,387.97 52.43,392.22" fill="#7a10f0"/><polygon points="58.61,391.31 54.91,389.18 54.91,393.44" fill="#7a10f0"/><polygon points="61.1,389.47 57.4,387.34 57.4,391.6" fill="#7a10f0"/><polygon points="63.59,391.62 59.89,389.49 59.89,393.75" fill="#7a10f0"/><polygon points="66.08,389.18 62.38,387.05 62.38,391.3" fill="#7a10f0"/><polygon points="68.56,391.01 64.86,388.88 64.86,393.14" fill="#7a10f0"/><polygon points="71.05,388.51 67.35,386.38 67.35,390.63" fill="#7a10f0"/><polygon points="73.54,390.27 69.84,388.14 69.84,392.39" fill="#7a10f0"/><polygon points="76.03,387.76 72.33,385.63 72.33,389.88" fill="#7a10f0"/><polygon points="78.52,390.01 74.82,387.88 74.82,392.13" fill="#7a10f0"/><polygon points="81,389.41 77.3,387.28 77.3,391.54" fill="#7a10f0"/><polygon points="83.49,390.48 79.79,388.35 79.79,392.61" fill="#7a10f0"/><polygon points="85.98,388.52 82.28,386.39 82.28,390.65" fill="#7a10f0"/><polygon points="88.47,390.27 84.77,388.14 84.77,392.4" fill="#7a10f0"/><polygon points="90.95,388.62 87.25,386.49 87.25,390.75" fill="#7a10f0"/><polygon points="93.44,389.61 89.74,387.49 89.74,391.74" fill="#7a10f0"/><polygon points="95.93,387.7 92.23,385.57 92.23,389.82" fill="#7a10f0"/><polygon points="98.42,391.1 94.72,388.97 94.72,393.22" fill="#7a10f0"/><polygon points="100.91,389.19 97.21,387.06 97.21,391.31" fill="#7a10f0"/><polygon points="103.39,391.08 99.69,388.95 99.69,393.2" fill="#7a10f0"/><polygon points="105.88,388.89 102.18,386.76 102.18,391.02" fill="#7a10f0"/><polygon points="108.37,391.62 104.67,389.5 104.67,393.75" fill="#7a10f0"/><polygon points="110.86,389.73 107.16,387.6 107.16,391.86" fill="#7a10f0"/><polygon points="113.34,392.18 109.64,390.06 109.64,394.31" fill="#7a10f0"/><polygon points="115.83,390.75 112.13,388.62 112.13,392.87" fill="#7a10f0"/><polygon points="118.32,391.65 114.62,389.52 114.62,393.78" fill="#7a10f0"/><polygon points="120.81,390.98 117.11,388.85 117.11,393.11" fill="#7a10f0"/><polygon points="123.3,391.64 119.6,389.51 119.6,393.77" fill="#7a10f0"/><polygon points="125.78,389.38 122.08,387.25 122.08,391.51" fill="#7a10f0"/><polygon points="128.27,392.13 124.57,390 124.57,394.26" fill="#7a10f0"/><polygon points="130.76,390.36 127.06,388.23 127.06,392.49" fill="#7a10f0"/><polygon points="133.25,392.76 129.55,390.63 129.55,394.88" fill="#7a10f0"/><polygon points="135.73,391.81 132.03,389.68 132.03,393.93" fill="#7a10f0"/><polygon points="138.22,392.31 134.52,390.19 134.52,394.44" fill="#7a10f0"/><polygon points="140.71,391.34 137.01,389.22 137.01,393.47" fill="#7a10f0"/><polygon points="143.2,392.58 139.5,390.45 139.5,394.71" fill="#7a10f0"/><polygon points="145.69,390.8 141.99,388.67 141.99,392.92" fill="#7a10f0"/><polygon points="148.17,392.35 144.47,390.22 144.47,394.48" fill="#7a10f0"/><polygon points="150.66,390.03 146.96,387.9 146.96,392.16" fill="#7a10f0"/><polygon points="153.15,393.09 149.45,390.96 149.45,395.22" fill="#7a10f0"/><polygon points="155.64,391.27 151.94,389.14 151.94,393.4" fill="#7a10f0"/><polygon points="158.12,394.38 154.42,392.26 154.42,396.51" fill="#7a10f0"/><polygon points="160.61,391.21 156.91,389.08 156.91,393.34" fill="#7a10f0"/><polygon points="163.1,394.33 159.4,392.2 159.4,396.45" fill="#7a10f0"/><polygon points="165.59,392.72 161.89,390.59 161.89,394.85" fill="#7a10f0"/><polygon points="168.08,393.32 164.38,391.19 164.38,395.45" fill="#7a10f0"/><polygon points="170.56,394 166.86,391.87 166.86,396.12" fill="#7a10f0"/><polygon points="173.05,394 169.35,391.87 169.35,396.12" fill="#7a10f0"/><polygon points="175.54,392.12 171.84,389.99 171.84,394.24" fill="#7a10f0"/><polygon points="178.03,394.55 174.33,392.43 174.33,396.68" fill="#7a10f0"/><polygon points="180.52,391.51 176.82,389.38 176.82,393.64" fill="#7a10f0"/><polygon points="183,394.78 179.3,392.65 179.3,396.91" fill="#7a10f0"/><polygon points="185.49,392.35 181.79,390.22 181.79,394.47" fill="#7a10f0"/><polygon points="187.98,395.52 184.28,393.39 184.28,397.65" fill="#7a10f0"/><polygon points="190.47,393.83 186.77,391.71 186.77,395.96" fill="#7a10f0"/><polygon points="192.95,393.71 189.25,391.59 189.25,395.84" fill="#7a10f0"/><polygon points="195.44,392.1 191.74,389.97 191.74,394.22" fill="#7a10f0"/><polygon points="197.93,395.3 194.23,393.18 194.23,397.43" fill="#7a10f0"/><polygon points="200.42,392.84 196.72,390.71 196.72,394.97" fill="#7a10f0"/><polygon points="202.91,395.85 199.21,393.72 199.21,397.98" fill="#7a10f0"/><polygon points="205.39,393.95 201.69,391.83 201.69,396.08" fill="#7a10f0"/><polygon points="207.88,394.31 204.18,392.18 204.18,396.44" fill="#7a10f0"/><polygon points="210.37,392.69 206.67,390.56 206.67,394.82" fill="#7a10f0"/><polygon points="212.86,394.77 209.16,392.64 209.16,396.9" fill="#7a10f0"/><polygon points="215.34,393.45 211.64,391.33 211.64,395.58" fill="#7a10f0"/><polygon points="217.83,395.14 214.13,393.01 214.13,397.27" fill="#7a10f0"/></g>
<line x1="43.3" y1="294.7" x2="57.3" y2="294.7" stroke="#000000" stroke-width="1.0" />
<rect x="48.5" y="292.9" width="3.6" height="3.6" fill="#000000"/>
<text x="58" y="297.3" font-size="11.5" font-weight="bold" text-anchor="start" fill="#000" stroke="#000" stroke-width="0.25" textLength="51.3" lengthAdjust="spacingAndGlyphs" >180.9 pg/ml</text>
<line x1="112" y1="294.7" x2="125" y2="294.7" stroke="#f01010" stroke-width="1.0" />
<circle cx="118.5" cy="294.7" r="1.98" fill="#f01010"/>
<text x="126" y="297.3" font-size="11.5" font-weight="bold" text-anchor="start" fill="#000" stroke="#000" stroke-width="0.25" textLength="52" lengthAdjust="spacingAndGlyphs" >269.2 pg/ml</text>
<line x1="43.3" y1="310" x2="57.3" y2="310" stroke="#1010f0" stroke-width="1.0" />
<polygon points="50.3,307.84 48.23,311.44 52.37,311.44" fill="#1010f0"/>
<text x="61.3" y="312.6" font-size="11.5" font-weight="bold" text-anchor="start" fill="#000" stroke="#000" stroke-width="0.25" textLength="50.7" lengthAdjust="spacingAndGlyphs" >660.8 pg/ml</text>
<line x1="112.5" y1="310" x2="125" y2="310" stroke="#ee22ee" stroke-width="1.0" />
<polygon points="118.75,312.16 116.68,308.56 120.82,308.56" fill="#ee22ee"/>
<text x="126" y="312.6" font-size="11.5" font-weight="bold" text-anchor="start" fill="#000" stroke="#000" stroke-width="0.25" textLength="49.1" lengthAdjust="spacingAndGlyphs" >1848 pg/ml</text>
<line x1="43.3" y1="324.6" x2="57.3" y2="324.6" stroke="#108a10" stroke-width="1.0" />
<polygon points="50.3,322.26 52.28,324.6 50.3,326.94 48.32,324.6" fill="#108a10"/>
<text x="58" y="327.2" font-size="11.5" font-weight="bold" text-anchor="start" fill="#000" stroke="#000" stroke-width="0.25" textLength="48.7" lengthAdjust="spacingAndGlyphs" >3008 pg/ml</text>
<line x1="111.1" y1="324.6" x2="125.3" y2="324.6" stroke="#10107a" stroke-width="1.0" />
<polygon points="116.04,324.6 119.64,322.53 119.64,326.67" fill="#10107a"/>
<text x="128.9" y="327.2" font-size="11.5" font-weight="bold" text-anchor="start" fill="#000" stroke="#000" stroke-width="0.25" textLength="48.5" lengthAdjust="spacingAndGlyphs" >4596 pg/ml</text>
<line x1="43.6" y1="338.7" x2="56.6" y2="338.7" stroke="#7a10f0" stroke-width="1.0" />
<polygon points="52.26,338.7 48.66,336.63 48.66,340.77" fill="#7a10f0"/>
<text x="58" y="341.3" font-size="11.5" font-weight="bold" text-anchor="start" fill="#000" stroke="#000" stroke-width="0.25" textLength="49.5" lengthAdjust="spacingAndGlyphs" >5000 pg/ml</text>
<line x1="266.5" y1="432.4" x2="266.5" y2="435.4" stroke="#000" stroke-width="1" />
<text x="266.5" y="446.8" font-size="10.6" font-weight="bold" text-anchor="middle" fill="#000" stroke="#000" stroke-width="0.25" >0</text>
<line x1="298.32" y1="432.4" x2="298.32" y2="435.4" stroke="#000" stroke-width="1" />
<text x="298.32" y="446.8" font-size="10.6" font-weight="bold" text-anchor="middle" fill="#000" stroke="#000" stroke-width="0.25" >10</text>
<line x1="330.14" y1="432.4" x2="330.14" y2="435.4" stroke="#000" stroke-width="1" />
<text x="330.14" y="446.8" font-size="10.6" font-weight="bold" text-anchor="middle" fill="#000" stroke="#000" stroke-width="0.25" >20</text>
<line x1="361.96" y1="432.4" x2="361.96" y2="435.4" stroke="#000" stroke-width="1" />
<text x="361.96" y="446.8" font-size="10.6" font-weight="bold" text-anchor="middle" fill="#000" stroke="#000" stroke-width="0.25" >30</text>
<line x1="393.78" y1="432.4" x2="393.78" y2="435.4" stroke="#000" stroke-width="1" />
<text x="393.78" y="446.8" font-size="10.6" font-weight="bold" text-anchor="middle" fill="#000" stroke="#000" stroke-width="0.25" >40</text>
<line x1="425.6" y1="432.4" x2="425.6" y2="435.4" stroke="#000" stroke-width="1" />
<text x="425.6" y="446.8" font-size="10.6" font-weight="bold" text-anchor="middle" fill="#000" stroke="#000" stroke-width="0.25" >50</text>
<line x1="282.41" y1="432.4" x2="282.41" y2="434.4" stroke="#000" stroke-width="0.9" />
<line x1="314.23" y1="432.4" x2="314.23" y2="434.4" stroke="#000" stroke-width="0.9" />
<line x1="346.05" y1="432.4" x2="346.05" y2="434.4" stroke="#000" stroke-width="0.9" />
<line x1="377.87" y1="432.4" x2="377.87" y2="434.4" stroke="#000" stroke-width="0.9" />
<line x1="409.69" y1="432.4" x2="409.69" y2="434.4" stroke="#000" stroke-width="0.9" />
<line x1="441.51" y1="432.4" x2="441.51" y2="434.4" stroke="#000" stroke-width="0.9" />
<line x1="263.3" y1="419.9" x2="266.3" y2="419.9" stroke="#000" stroke-width="1" />
<text x="261" y="423.5" font-size="10.6" font-weight="bold" text-anchor="end" fill="#000" stroke="#000" stroke-width="0.25" >0</text>
<line x1="263.3" y1="395" x2="266.3" y2="395" stroke="#000" stroke-width="1" />
<text x="261" y="398.6" font-size="10.6" font-weight="bold" text-anchor="end" fill="#000" stroke="#000" stroke-width="0.25" >1</text>
<line x1="263.3" y1="370.1" x2="266.3" y2="370.1" stroke="#000" stroke-width="1" />
<text x="261" y="373.7" font-size="10.6" font-weight="bold" text-anchor="end" fill="#000" stroke="#000" stroke-width="0.25" >2</text>
<line x1="263.3" y1="345.2" x2="266.3" y2="345.2" stroke="#000" stroke-width="1" />
<text x="261" y="348.8" font-size="10.6" font-weight="bold" text-anchor="end" fill="#000" stroke="#000" stroke-width="0.25" >3</text>
<line x1="263.3" y1="320.3" x2="266.3" y2="320.3" stroke="#000" stroke-width="1" />
<text x="261" y="323.9" font-size="10.6" font-weight="bold" text-anchor="end" fill="#000" stroke="#000" stroke-width="0.25" >4</text>
<line x1="263.3" y1="295.4" x2="266.3" y2="295.4" stroke="#000" stroke-width="1" />
<text x="261" y="299" font-size="10.6" font-weight="bold" text-anchor="end" fill="#000" stroke="#000" stroke-width="0.25" >5</text>
<line x1="264.3" y1="432.35" x2="266.3" y2="432.35" stroke="#000" stroke-width="0.9" />
<line x1="264.3" y1="407.45" x2="266.3" y2="407.45" stroke="#000" stroke-width="0.9" />
<line x1="264.3" y1="382.55" x2="266.3" y2="382.55" stroke="#000" stroke-width="0.9" />
<line x1="264.3" y1="357.65" x2="266.3" y2="357.65" stroke="#000" stroke-width="0.9" />
<line x1="264.3" y1="332.75" x2="266.3" y2="332.75" stroke="#000" stroke-width="0.9" />
<line x1="264.3" y1="307.85" x2="266.3" y2="307.85" stroke="#000" stroke-width="0.9" />
<rect x="266.3" y="282.6" width="175.3" height="149.8" fill="none" stroke="#222" stroke-width="1.2"/>
<text x="266.8" y="264.1" font-size="12.4" font-weight="bold" text-anchor="start" fill="#000" stroke="#000" stroke-width="0.25" textLength="150.2" lengthAdjust="spacingAndGlyphs" >Accumulated charges for different</text>
<text x="266.8" y="279.3" font-size="12.4" font-weight="bold" text-anchor="start" fill="#000" stroke="#000" stroke-width="0.25" textLength="161.7" lengthAdjust="spacingAndGlyphs" >NTpro-BNP concentrations in serum</text>
<text x="249.7" y="359.5" font-size="10.8" font-weight="bold" text-anchor="middle" fill="#000" stroke="#000" stroke-width="0.25" textLength="94" lengthAdjust="spacingAndGlyphs" transform="rotate(-90 249.7 359.5)" >Total Charge (nC)</text>
<text x="335.2" y="458" font-size="10.6" font-weight="bold" text-anchor="start" fill="#000" stroke="#000" stroke-width="0.25" textLength="21.8" lengthAdjust="spacingAndGlyphs" >Time</text>
<text x="359.3" y="458" font-size="8.0" font-weight="bold" text-anchor="start" fill="#000" stroke="#000" stroke-width="0.25" textLength="13.7" lengthAdjust="spacingAndGlyphs" >(µs)</text>
<path d="M271.81,419.9 L282.42,416.28 L293.03,409.11 L303.63,400.86 L314.24,392.28 L324.84,383.6 L335.45,374.89 L346.05,366.18 L356.66,357.46 L367.26,348.74 L377.87,340.02 L388.48,331.3 L399.08,322.57 L409.69,313.85 L420.29,305.13" fill="none" stroke="#000000" stroke-width="1.0" stroke-linejoin="round"/>
<g><rect x="269.86" y="417.95" width="3.9" height="3.9" fill="#000000"/><rect x="280.47" y="414.33" width="3.9" height="3.9" fill="#000000"/><rect x="291.08" y="407.16" width="3.9" height="3.9" fill="#000000"/><rect x="301.68" y="398.91" width="3.9" height="3.9" fill="#000000"/><rect x="312.29" y="390.33" width="3.9" height="3.9" fill="#000000"/><rect x="322.89" y="381.65" width="3.9" height="3.9" fill="#000000"/><rect x="333.5" y="372.94" width="3.9" height="3.9" fill="#000000"/><rect x="344.1" y="364.23" width="3.9" height="3.9" fill="#000000"/><rect x="354.71" y="355.51" width="3.9" height="3.9" fill="#000000"/><rect x="365.31" y="346.79" width="3.9" height="3.9" fill="#000000"/><rect x="375.92" y="338.07" width="3.9" height="3.9" fill="#000000"/><rect x="386.53" y="329.35" width="3.9" height="3.9" fill="#000000"/><rect x="397.13" y="320.62" width="3.9" height="3.9" fill="#000000"/><rect x="407.74" y="311.9" width="3.9" height="3.9" fill="#000000"/><rect x="418.34" y="303.18" width="3.9" height="3.9" fill="#000000"/></g>
<path d="M271.81,419.9 L282.42,416.39 L293.03,409.43 L303.63,401.44 L314.24,393.12 L324.84,384.7 L335.45,376.26 L346.05,367.81 L356.66,359.35 L367.26,350.9 L377.87,342.44 L388.48,333.99 L399.08,325.53 L409.69,317.07 L420.29,308.62" fill="none" stroke="#f01010" stroke-width="1.0" stroke-linejoin="round"/>
<g><circle cx="271.81" cy="419.9" r="2.15" fill="#f01010"/><circle cx="282.42" cy="416.39" r="2.15" fill="#f01010"/><circle cx="293.03" cy="409.43" r="2.15" fill="#f01010"/><circle cx="303.63" cy="401.44" r="2.15" fill="#f01010"/><circle cx="314.24" cy="393.12" r="2.15" fill="#f01010"/><circle cx="324.84" cy="384.7" r="2.15" fill="#f01010"/><circle cx="335.45" cy="376.26" r="2.15" fill="#f01010"/><circle cx="346.05" cy="367.81" r="2.15" fill="#f01010"/><circle cx="356.66" cy="359.35" r="2.15" fill="#f01010"/><circle cx="367.26" cy="350.9" r="2.15" fill="#f01010"/><circle cx="377.87" cy="342.44" r="2.15" fill="#f01010"/><circle cx="388.48" cy="333.99" r="2.15" fill="#f01010"/><circle cx="399.08" cy="325.53" r="2.15" fill="#f01010"/><circle cx="409.69" cy="317.07" r="2.15" fill="#f01010"/><circle cx="420.29" cy="308.62" r="2.15" fill="#f01010"/></g>
<path d="M271.81,419.9 L282.42,416.74 L293.03,410.34 L303.63,402.88 L314.24,395.07 L324.84,387.15 L335.45,379.18 L346.05,371.21 L356.66,363.23 L367.26,355.25 L377.87,347.27 L388.48,339.28 L399.08,331.3 L409.69,323.32 L420.29,315.34" fill="none" stroke="#1010f0" stroke-width="1.0" stroke-linejoin="round"/>
<g><polygon points="271.81,417.56 269.57,421.46 274.06,421.46" fill="#1010f0"/><polygon points="282.42,414.4 280.18,418.3 284.66,418.3" fill="#1010f0"/><polygon points="293.03,408 290.78,411.9 295.27,411.9" fill="#1010f0"/><polygon points="303.63,400.54 301.39,404.44 305.87,404.44" fill="#1010f0"/><polygon points="314.24,392.73 311.99,396.63 316.48,396.63" fill="#1010f0"/><polygon points="324.84,384.81 322.6,388.71 327.08,388.71" fill="#1010f0"/><polygon points="335.45,376.84 333.21,380.74 337.69,380.74" fill="#1010f0"/><polygon points="346.05,368.87 343.81,372.77 348.3,372.77" fill="#1010f0"/><polygon points="356.66,360.89 354.42,364.79 358.9,364.79" fill="#1010f0"/><polygon points="367.26,352.91 365.02,356.81 369.51,356.81" fill="#1010f0"/><polygon points="377.87,344.93 375.63,348.83 380.11,348.83" fill="#1010f0"/><polygon points="388.48,336.94 386.23,340.84 390.72,340.84" fill="#1010f0"/><polygon points="399.08,328.96 396.84,332.86 401.32,332.86" fill="#1010f0"/><polygon points="409.69,320.98 407.44,324.88 411.93,324.88" fill="#1010f0"/><polygon points="420.29,313 418.05,316.9 422.53,316.9" fill="#1010f0"/></g>
<path d="M271.81,419.9 L282.42,416.62 L293.03,410.82 L303.63,404.54 L314.24,398.17 L324.84,391.78 L335.45,385.39 L346.05,379 L356.66,372.61 L367.26,366.21 L377.87,359.82 L388.48,353.43 L399.08,347.04 L409.69,340.65 L420.29,334.26" fill="none" stroke="#ee22ee" stroke-width="1.0" stroke-linejoin="round"/>
<g><polygon points="271.81,422.24 269.57,418.34 274.06,418.34" fill="#ee22ee"/><polygon points="282.42,418.96 280.18,415.06 284.66,415.06" fill="#ee22ee"/><polygon points="293.03,413.16 290.78,409.26 295.27,409.26" fill="#ee22ee"/><polygon points="303.63,406.88 301.39,402.98 305.87,402.98" fill="#ee22ee"/><polygon points="314.24,400.51 311.99,396.61 316.48,396.61" fill="#ee22ee"/><polygon points="324.84,394.12 322.6,390.22 327.08,390.22" fill="#ee22ee"/><polygon points="335.45,387.73 333.21,383.83 337.69,383.83" fill="#ee22ee"/><polygon points="346.05,381.34 343.81,377.44 348.3,377.44" fill="#ee22ee"/><polygon points="356.66,374.95 354.42,371.05 358.9,371.05" fill="#ee22ee"/><polygon points="367.26,368.55 365.02,364.65 369.51,364.65" fill="#ee22ee"/><polygon points="377.87,362.16 375.63,358.26 380.11,358.26" fill="#ee22ee"/><polygon points="388.48,355.77 386.23,351.87 390.72,351.87" fill="#ee22ee"/><polygon points="399.08,349.38 396.84,345.48 401.32,345.48" fill="#ee22ee"/><polygon points="409.69,342.99 407.44,339.09 411.93,339.09" fill="#ee22ee"/><polygon points="420.29,336.6 418.05,332.7 422.53,332.7" fill="#ee22ee"/></g>
<path d="M271.81,419.9 L282.42,416.37 L293.03,411.46 L303.63,406.51 L314.24,401.54 L324.84,396.58 L335.45,391.62 L346.05,386.66 L356.66,381.7 L367.26,376.74 L377.87,371.78 L388.48,366.82 L399.08,361.86 L409.69,356.9 L420.29,351.93" fill="none" stroke="#108a10" stroke-width="1.0" stroke-linejoin="round"/>
<g><polygon points="271.81,417.36 273.96,419.9 271.81,422.44 269.67,419.9" fill="#108a10"/><polygon points="282.42,413.84 284.56,416.37 282.42,418.91 280.27,416.37" fill="#108a10"/><polygon points="293.03,408.93 295.17,411.46 293.03,414 290.88,411.46" fill="#108a10"/><polygon points="303.63,403.97 305.78,406.51 303.63,409.04 301.49,406.51" fill="#108a10"/><polygon points="314.24,399.01 316.38,401.54 314.24,404.08 312.09,401.54" fill="#108a10"/><polygon points="324.84,394.05 326.99,396.58 324.84,399.12 322.7,396.58" fill="#108a10"/><polygon points="335.45,389.09 337.59,391.62 335.45,394.16 333.3,391.62" fill="#108a10"/><polygon points="346.05,384.13 348.2,386.66 346.05,389.2 343.91,386.66" fill="#108a10"/><polygon points="356.66,379.17 358.8,381.7 356.66,384.24 354.51,381.7" fill="#108a10"/><polygon points="367.26,374.2 369.41,376.74 367.26,379.27 365.12,376.74" fill="#108a10"/><polygon points="377.87,369.24 380.01,371.78 377.87,374.31 375.73,371.78" fill="#108a10"/><polygon points="388.48,364.28 390.62,366.82 388.48,369.35 386.33,366.82" fill="#108a10"/><polygon points="399.08,359.32 401.23,361.86 399.08,364.39 396.94,361.86" fill="#108a10"/><polygon points="409.69,354.36 411.83,356.9 409.69,359.43 407.54,356.9" fill="#108a10"/><polygon points="420.29,349.4 422.44,351.93 420.29,354.47 418.15,351.93" fill="#108a10"/></g>
<path d="M271.81,419.9 L282.42,416.16 L293.03,411.75 L303.63,407.35 L314.24,402.94 L324.84,398.54 L335.45,394.14 L346.05,389.73 L356.66,385.33 L367.26,380.93 L377.87,376.52 L388.48,372.12 L399.08,367.71 L409.69,363.31 L420.29,358.91" fill="none" stroke="#10107a" stroke-width="1.0" stroke-linejoin="round"/>
<g><polygon points="269.47,419.9 273.37,417.66 273.37,422.14" fill="#10107a"/><polygon points="280.08,416.16 283.98,413.91 283.98,418.4" fill="#10107a"/><polygon points="290.69,411.75 294.59,409.51 294.59,414" fill="#10107a"/><polygon points="301.29,407.35 305.19,405.11 305.19,409.59" fill="#10107a"/><polygon points="311.9,402.94 315.8,400.7 315.8,405.19" fill="#10107a"/><polygon points="322.5,398.54 326.4,396.3 326.4,400.78" fill="#10107a"/><polygon points="333.11,394.14 337.01,391.89 337.01,396.38" fill="#10107a"/><polygon points="343.71,389.73 347.61,387.49 347.61,391.98" fill="#10107a"/><polygon points="354.32,385.33 358.22,383.09 358.22,387.57" fill="#10107a"/><polygon points="364.92,380.93 368.82,378.68 368.82,383.17" fill="#10107a"/><polygon points="375.53,376.52 379.43,374.28 379.43,378.76" fill="#10107a"/><polygon points="386.14,372.12 390.04,369.87 390.04,374.36" fill="#10107a"/><polygon points="396.74,367.71 400.64,365.47 400.64,369.96" fill="#10107a"/><polygon points="407.35,363.31 411.25,361.07 411.25,365.55" fill="#10107a"/><polygon points="417.95,358.91 421.85,356.66 421.85,361.15" fill="#10107a"/></g>
<path d="M271.81,419.9 L282.42,416.75 L293.03,412.92 L303.63,409.08 L314.24,405.24 L324.84,401.41 L335.45,397.57 L346.05,393.73 L356.66,389.89 L367.26,386.06 L377.87,382.22 L388.48,378.38 L399.08,374.55 L409.69,370.71 L420.29,366.87" fill="none" stroke="#7a10f0" stroke-width="1.0" stroke-linejoin="round"/>
<g><polygon points="274.15,419.9 270.25,417.66 270.25,422.14" fill="#7a10f0"/><polygon points="284.76,416.75 280.86,414.51 280.86,418.99" fill="#7a10f0"/><polygon points="295.37,412.92 291.47,410.67 291.47,415.16" fill="#7a10f0"/><polygon points="305.97,409.08 302.07,406.84 302.07,411.32" fill="#7a10f0"/><polygon points="316.58,405.24 312.68,403 312.68,407.49" fill="#7a10f0"/><polygon points="327.18,401.41 323.28,399.16 323.28,403.65" fill="#7a10f0"/><polygon points="337.79,397.57 333.89,395.33 333.89,399.81" fill="#7a10f0"/><polygon points="348.39,393.73 344.49,391.49 344.49,395.97" fill="#7a10f0"/><polygon points="359,389.89 355.1,387.65 355.1,392.14" fill="#7a10f0"/><polygon points="369.6,386.06 365.7,383.81 365.7,388.3" fill="#7a10f0"/><polygon points="380.21,382.22 376.31,379.98 376.31,384.46" fill="#7a10f0"/><polygon points="390.82,378.38 386.92,376.14 386.92,380.63" fill="#7a10f0"/><polygon points="401.42,374.55 397.52,372.3 397.52,376.79" fill="#7a10f0"/><polygon points="412.03,370.71 408.13,368.47 408.13,372.95" fill="#7a10f0"/><polygon points="422.63,366.87 418.73,364.63 418.73,369.11" fill="#7a10f0"/></g>
<line x1="271" y1="292.3" x2="285.5" y2="292.3" stroke="#000000" stroke-width="1.0" />
<rect x="276.45" y="290.5" width="3.6" height="3.6" fill="#000000"/>
<text x="286.4" y="295.2" font-size="12.0" font-weight="bold" text-anchor="start" fill="#000" stroke="#000" stroke-width="0.25" textLength="53.8" lengthAdjust="spacingAndGlyphs" >180.9 pg/mL</text>
<line x1="271" y1="306.5" x2="285.5" y2="306.5" stroke="#1010f0" stroke-width="1.0" />
<polygon points="278.25,304.34 276.18,307.94 280.32,307.94" fill="#1010f0"/>
<text x="288" y="309.4" font-size="12.0" font-weight="bold" text-anchor="start" fill="#000" stroke="#000" stroke-width="0.25" textLength="52.2" lengthAdjust="spacingAndGlyphs" >660.8 pg/mL</text>
<line x1="271" y1="320.7" x2="285.5" y2="320.7" stroke="#108a10" stroke-width="1.0" />
<polygon points="278.25,318.36 280.23,320.7 278.25,323.04 276.27,320.7" fill="#108a10"/>
<text x="286.4" y="323.6" font-size="12.0" font-weight="bold" text-anchor="start" fill="#000" stroke="#000" stroke-width="0.25" textLength="51.2" lengthAdjust="spacingAndGlyphs" >2124 pg/mL</text>
<line x1="271" y1="334.9" x2="285.5" y2="334.9" stroke="#10107a" stroke-width="1.0" />
<polygon points="276.09,334.9 279.69,332.83 279.69,336.97" fill="#10107a"/>
<text x="286.4" y="337.8" font-size="12.0" font-weight="bold" text-anchor="start" fill="#000" stroke="#000" stroke-width="0.25" textLength="52.1" lengthAdjust="spacingAndGlyphs" >4596 pg/mL</text>
<line x1="271" y1="349.1" x2="285.5" y2="349.1" stroke="#7a10f0" stroke-width="1.0" />
<polygon points="280.41,349.1 276.81,347.03 276.81,351.17" fill="#7a10f0"/>
<text x="286.4" y="352" font-size="12.0" font-weight="bold" text-anchor="start" fill="#000" stroke="#000" stroke-width="0.25" textLength="52.1" lengthAdjust="spacingAndGlyphs" >5000 pg/mL</text>
<line x1="344.5" y1="292.3" x2="358.2" y2="292.3" stroke="#f01010" stroke-width="1.0" />
<circle cx="351.35" cy="292.3" r="1.98" fill="#f01010"/>
<text x="360" y="295.2" font-size="12.0" font-weight="bold" text-anchor="start" fill="#000" stroke="#000" stroke-width="0.25" textLength="53.3" lengthAdjust="spacingAndGlyphs" >269.2 pg/mL</text>
<line x1="344.5" y1="306.5" x2="358.2" y2="306.5" stroke="#ee22ee" stroke-width="1.0" />
<polygon points="351.35,308.66 349.28,305.06 353.42,305.06" fill="#ee22ee"/>
<text x="360" y="309.4" font-size="12.0" font-weight="bold" text-anchor="start" fill="#000" stroke="#000" stroke-width="0.25" textLength="50.5" lengthAdjust="spacingAndGlyphs" >1848 pg/mL</text>
<line x1="485.8" y1="431.8" x2="485.8" y2="434.8" stroke="#000" stroke-width="1" />
<line x1="576.4" y1="431.8" x2="576.4" y2="434.8" stroke="#000" stroke-width="1" />
<line x1="667" y1="431.8" x2="667" y2="434.8" stroke="#000" stroke-width="1" />
<line x1="513.07" y1="431.8" x2="513.07" y2="433.6" stroke="#000" stroke-width="0.9" />
<line x1="529.03" y1="431.8" x2="529.03" y2="433.6" stroke="#000" stroke-width="0.9" />
<line x1="540.35" y1="431.8" x2="540.35" y2="433.6" stroke="#000" stroke-width="0.9" />
<line x1="549.13" y1="431.8" x2="549.13" y2="433.6" stroke="#000" stroke-width="0.9" />
<line x1="556.3" y1="431.8" x2="556.3" y2="433.6" stroke="#000" stroke-width="0.9" />
<line x1="562.37" y1="431.8" x2="562.37" y2="433.6" stroke="#000" stroke-width="0.9" />
<line x1="567.62" y1="431.8" x2="567.62" y2="433.6" stroke="#000" stroke-width="0.9" />
<line x1="572.25" y1="431.8" x2="572.25" y2="433.6" stroke="#000" stroke-width="0.9" />
<line x1="603.67" y1="431.8" x2="603.67" y2="433.6" stroke="#000" stroke-width="0.9" />
<line x1="619.63" y1="431.8" x2="619.63" y2="433.6" stroke="#000" stroke-width="0.9" />
<line x1="630.95" y1="431.8" x2="630.95" y2="433.6" stroke="#000" stroke-width="0.9" />
<line x1="639.73" y1="431.8" x2="639.73" y2="433.6" stroke="#000" stroke-width="0.9" />
<line x1="646.9" y1="431.8" x2="646.9" y2="433.6" stroke="#000" stroke-width="0.9" />
<line x1="652.97" y1="431.8" x2="652.97" y2="433.6" stroke="#000" stroke-width="0.9" />
<line x1="658.22" y1="431.8" x2="658.22" y2="433.6" stroke="#000" stroke-width="0.9" />
<line x1="662.85" y1="431.8" x2="662.85" y2="433.6" stroke="#000" stroke-width="0.9" />
<line x1="482.6" y1="420.5" x2="485.6" y2="420.5" stroke="#000" stroke-width="1" />
<text x="480.8" y="424.1" font-size="10.6" font-weight="bold" text-anchor="end" fill="#000" stroke="#000" stroke-width="0.25" textLength="12.2" lengthAdjust="spacingAndGlyphs" >2.0</text>
<line x1="482.6" y1="397.45" x2="485.6" y2="397.45" stroke="#000" stroke-width="1" />
<text x="480.8" y="401.05" font-size="10.6" font-weight="bold" text-anchor="end" fill="#000" stroke="#000" stroke-width="0.25" textLength="12.2" lengthAdjust="spacingAndGlyphs" >2.5</text>
<line x1="482.6" y1="374.4" x2="485.6" y2="374.4" stroke="#000" stroke-width="1" />
<text x="480.8" y="378" font-size="10.6" font-weight="bold" text-anchor="end" fill="#000" stroke="#000" stroke-width="0.25" textLength="12.2" lengthAdjust="spacingAndGlyphs" >3.0</text>
<line x1="482.6" y1="351.35" x2="485.6" y2="351.35" stroke="#000" stroke-width="1" />
<text x="480.8" y="354.95" font-size="10.6" font-weight="bold" text-anchor="end" fill="#000" stroke="#000" stroke-width="0.25" textLength="12.2" lengthAdjust="spacingAndGlyphs" >3.5</text>
<line x1="482.6" y1="328.3" x2="485.6" y2="328.3" stroke="#000" stroke-width="1" />
<text x="480.8" y="331.9" font-size="10.6" font-weight="bold" text-anchor="end" fill="#000" stroke="#000" stroke-width="0.25" textLength="12.2" lengthAdjust="spacingAndGlyphs" >4.0</text>
<line x1="482.6" y1="305.25" x2="485.6" y2="305.25" stroke="#000" stroke-width="1" />
<text x="480.8" y="308.85" font-size="10.6" font-weight="bold" text-anchor="end" fill="#000" stroke="#000" stroke-width="0.25" textLength="12.2" lengthAdjust="spacingAndGlyphs" >4.5</text>
<line x1="482.6" y1="282.2" x2="485.6" y2="282.2" stroke="#000" stroke-width="1" />
<text x="480.8" y="285.8" font-size="10.6" font-weight="bold" text-anchor="end" fill="#000" stroke="#000" stroke-width="0.25" textLength="12.2" lengthAdjust="spacingAndGlyphs" >5.0</text>
<line x1="483.8" y1="432.02" x2="485.6" y2="432.02" stroke="#000" stroke-width="0.9" />
<line x1="483.8" y1="408.98" x2="485.6" y2="408.98" stroke="#000" stroke-width="0.9" />
<line x1="483.8" y1="385.93" x2="485.6" y2="385.93" stroke="#000" stroke-width="0.9" />
<line x1="483.8" y1="362.88" x2="485.6" y2="362.88" stroke="#000" stroke-width="0.9" />
<line x1="483.8" y1="339.82" x2="485.6" y2="339.82" stroke="#000" stroke-width="0.9" />
<line x1="483.8" y1="316.77" x2="485.6" y2="316.77" stroke="#000" stroke-width="0.9" />
<line x1="483.8" y1="293.72" x2="485.6" y2="293.72" stroke="#000" stroke-width="0.9" />
<rect x="485.6" y="282.6" width="181.2" height="149.2" fill="none" stroke="#222" stroke-width="1.2"/>
<text x="488.4" y="448.2" font-size="11" font-weight="bold" text-anchor="end" fill="#000" stroke="#000" stroke-width="0.25" textLength="9.2" lengthAdjust="spacingAndGlyphs" >10</text>
<text x="488.7" y="443.4" font-size="6.0" font-weight="bold" text-anchor="start" fill="#000" stroke="#000" stroke-width="0.25" >2</text>
<text x="579" y="448.2" font-size="11" font-weight="bold" text-anchor="end" fill="#000" stroke="#000" stroke-width="0.25" textLength="9.2" lengthAdjust="spacingAndGlyphs" >10</text>
<text x="579.3" y="443.4" font-size="6.0" font-weight="bold" text-anchor="start" fill="#000" stroke="#000" stroke-width="0.25" >3</text>
<text x="669.6" y="448.2" font-size="11" font-weight="bold" text-anchor="end" fill="#000" stroke="#000" stroke-width="0.25" textLength="9.2" lengthAdjust="spacingAndGlyphs" >10</text>
<text x="669.9" y="443.4" font-size="6.0" font-weight="bold" text-anchor="start" fill="#000" stroke="#000" stroke-width="0.25" >4</text>
<text x="484.3" y="264.9" font-size="12.2" font-weight="bold" text-anchor="start" fill="#000" stroke="#000" stroke-width="0.25" textLength="185.6" lengthAdjust="spacingAndGlyphs" >Calibration curve- NT-proBNP detection</text>
<text x="484.3" y="279.8" font-size="12.2" font-weight="bold" text-anchor="start" fill="#000" stroke="#000" stroke-width="0.25" textLength="39.6" lengthAdjust="spacingAndGlyphs" >in serum</text>
<text x="462.7" y="365.2" font-size="10.8" font-weight="bold" text-anchor="middle" fill="#000" stroke="#000" stroke-width="0.25" textLength="96.4" lengthAdjust="spacingAndGlyphs" transform="rotate(-90 462.7 365.2)" >Total Charge (nC)</text>
<text x="512.6" y="459.3" font-size="10.6" font-weight="bold" text-anchor="start" fill="#000" stroke="#000" stroke-width="0.25" textLength="126.1" lengthAdjust="spacingAndGlyphs" >Log [NT- proBNP] (pg/ mL)</text>
<rect x="507.45" y="292.05" width="3.5" height="3.5" fill="#000"/>
<rect x="522.25" y="301.65" width="3.5" height="3.5" fill="#000"/>
<rect x="558.05" y="315.75" width="3.5" height="3.5" fill="#000"/>
<rect x="598.45" y="362.15" width="3.5" height="3.5" fill="#000"/>
<rect x="617.35" y="381.35" width="3.5" height="3.5" fill="#000"/>
<rect x="634.65" y="396.15" width="3.5" height="3.5" fill="#000"/>
<rect x="637.15" y="408.95" width="3.5" height="3.5" fill="#000"/>
</svg>
</body></html>
